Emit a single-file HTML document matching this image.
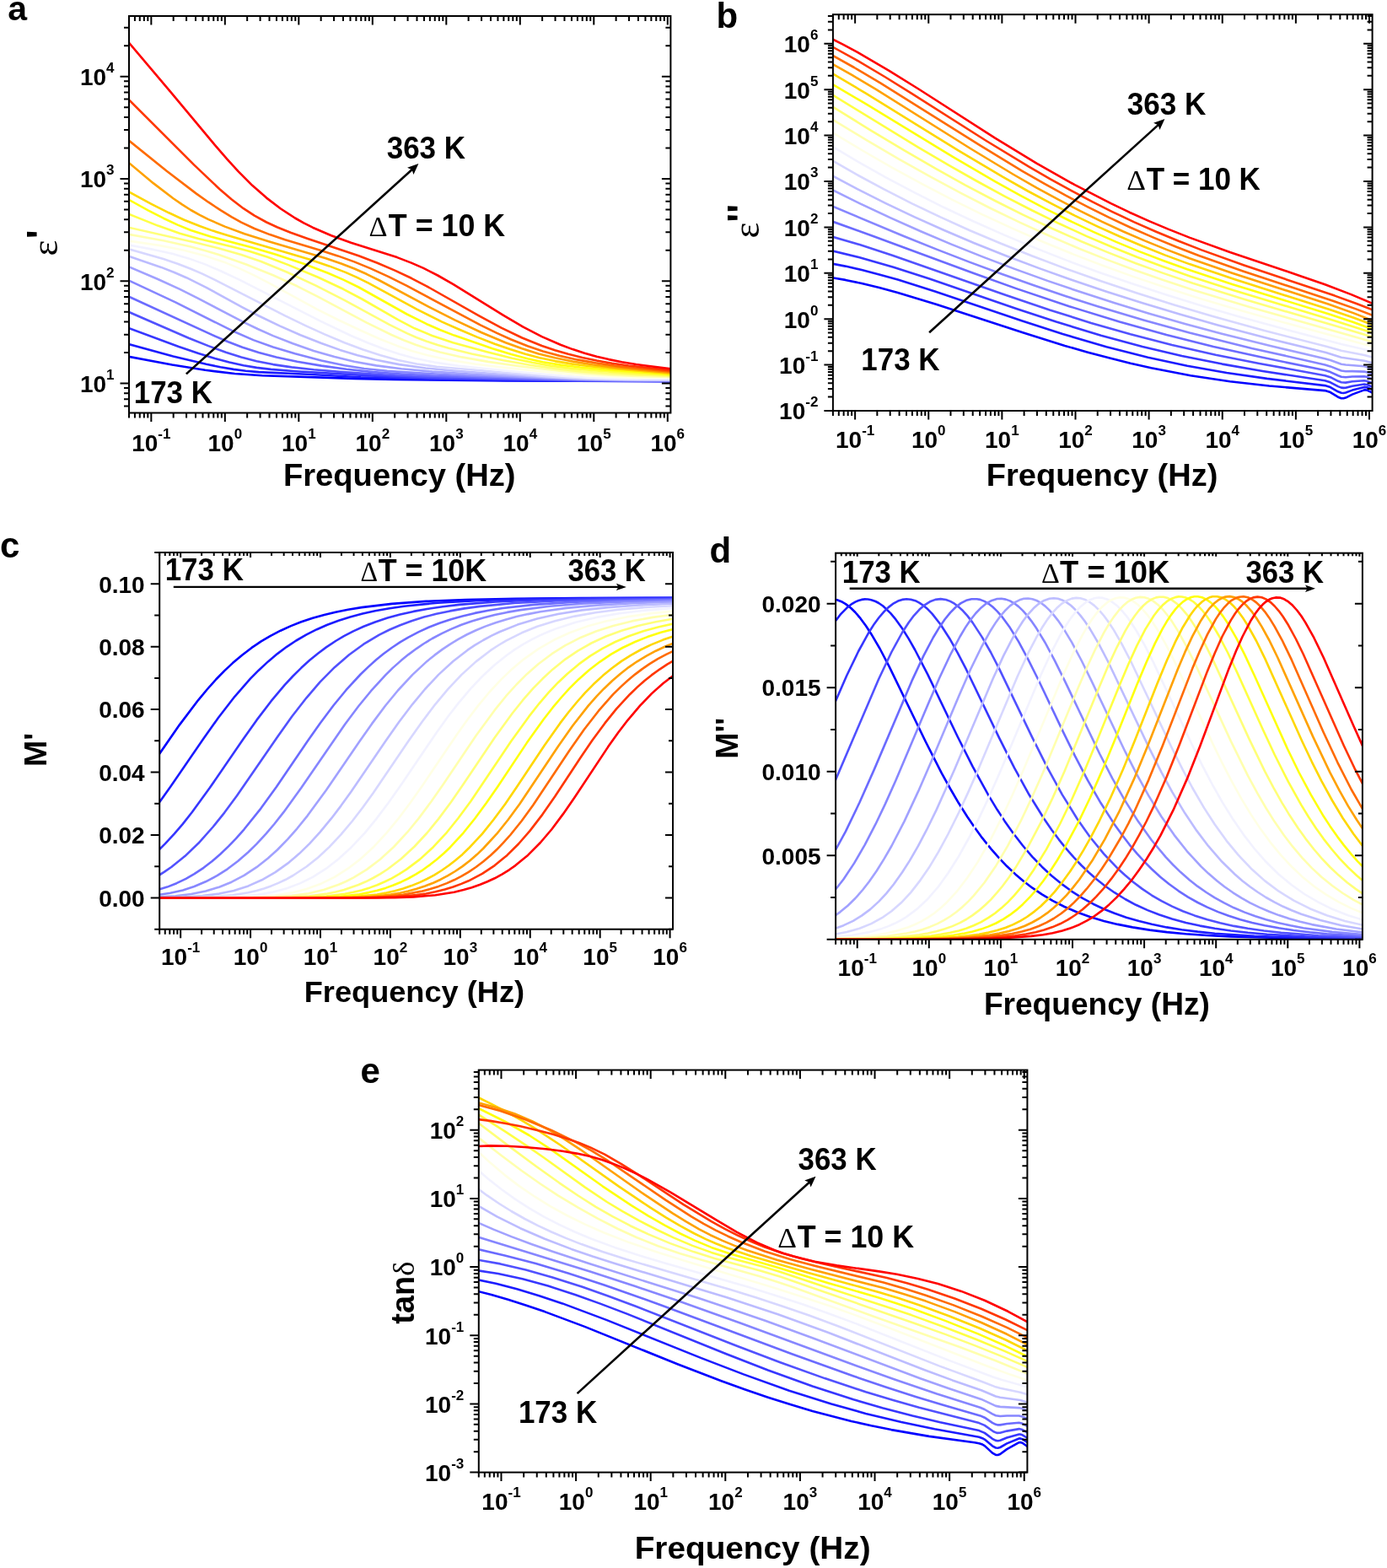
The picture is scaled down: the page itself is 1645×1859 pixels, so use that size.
<!DOCTYPE html>
<html><head><meta charset="utf-8"><style>html,body{margin:0;padding:0;background:#fff;}svg{display:block;}</style></head><body>
<svg xmlns="http://www.w3.org/2000/svg" width="1645" height="1859" viewBox="0 0 1645 1859" font-family='"Liberation Sans", Arial, sans-serif' font-weight="bold" fill="#000">
<rect width="1645" height="1859" fill="#fff"/>
<clipPath id="clipa"><rect x="153.00" y="19.00" width="642.40" height="470.50"/></clipPath>
<g clip-path="url(#clipa)" fill="none" stroke-width="2.6" stroke-linejoin="round" stroke-linecap="round">
<path d="M149.6 422.3 L204.2 432.5 L243.3 438.8 L278.4 443.0 L310.9 445.2 L420.2 448.9 L468.3 449.9 L599.7 451.4 L798.8 452.1" stroke="#0000ff"/>
<path d="M149.6 407.1 L205.5 422.4 L244.6 431.8 L261.5 435.3 L277.1 437.9 L291.4 439.8 L307.0 441.1 L364.3 443.7 L428.0 447.3 L476.1 448.8 L563.3 450.4 L657.0 451.5 L798.8 452.0" stroke="#1b1bff"/>
<path d="M149.6 387.9 L212.0 411.0 L235.5 419.0 L255.0 425.0 L271.9 429.6 L288.8 433.3 L304.4 435.9 L321.3 437.9 L351.2 440.2 L434.5 445.1 L474.8 447.3 L507.4 448.5 L679.1 451.3 L798.8 451.8" stroke="#3636ff"/>
<path d="M149.6 368.5 L223.7 400.7 L247.2 410.1 L268.0 417.7 L286.2 423.5 L304.4 428.2 L323.9 432.1 L346.0 435.4 L372.1 438.3 L403.3 440.9 L467.0 445.3 L507.4 447.3 L685.6 451.1 L798.8 451.7" stroke="#5151ff"/>
<path d="M149.6 350.2 L252.4 397.4 L270.6 405.3 L287.5 411.8 L307.0 418.1 L327.8 423.5 L352.5 428.7 L381.2 433.6 L411.1 437.8 L442.3 441.1 L476.1 443.6 L517.8 445.8 L580.2 447.9 L685.6 450.6 L733.7 451.3 L798.8 451.5" stroke="#6b6bff"/>
<path d="M149.6 331.1 L208.1 358.4 L274.5 391.7 L300.5 403.1 L323.9 411.5 L349.9 419.3 L381.2 427.5 L408.5 433.3 L431.9 437.0 L459.2 439.9 L500.9 442.6 L559.4 445.8 L697.3 450.5 L740.2 451.1 L798.8 451.2" stroke="#8686ff"/>
<path d="M149.6 314.9 L187.3 331.0 L213.3 342.9 L234.2 353.3 L288.8 381.9 L305.7 390.0 L323.9 398.1 L347.3 407.3 L372.1 415.9 L396.8 423.1 L420.2 428.7 L446.2 433.4 L476.1 437.3 L512.6 440.6 L556.8 443.6 L625.7 447.2 L689.5 449.7 L735.0 450.7 L798.8 451.0" stroke="#a1a1ff"/>
<path d="M149.6 302.6 L191.2 316.9 L206.8 323.0 L221.1 329.2 L244.6 340.8 L287.5 364.3 L307.0 374.5 L331.7 386.4 L356.4 397.2 L381.2 407.0 L403.3 414.9 L424.1 421.2 L444.9 426.5 L473.5 432.1 L504.8 436.5 L537.3 439.6 L597.1 444.0 L651.8 447.4 L697.3 449.4 L740.2 450.4 L798.8 450.8" stroke="#bcbcff"/>
<path d="M149.6 294.4 L193.8 307.1 L210.7 312.8 L226.3 318.8 L239.4 324.4 L255.0 331.8 L338.2 374.4 L363.0 386.3 L385.1 396.4 L408.5 406.3 L430.6 414.5 L451.4 421.3 L472.2 426.9 L494.3 431.5 L517.8 434.7 L647.9 446.1 L680.4 448.1 L712.9 449.3 L749.3 450.0 L798.8 450.4" stroke="#d7d7ff"/>
<path d="M149.6 289.9 L182.1 295.9 L204.2 300.8 L223.7 306.4 L243.3 313.4 L262.8 321.7 L284.9 332.1 L379.9 380.6 L416.3 398.0 L435.8 406.3 L455.3 413.8 L473.5 419.8 L491.7 424.8 L515.2 429.6 L543.8 433.7 L606.2 440.2 L667.4 445.7 L697.3 447.7 L724.6 448.8 L755.8 449.1 L798.8 448.9" stroke="#f2f2ff"/>
<path d="M149.6 285.1 L188.6 290.9 L217.2 296.5 L243.3 303.3 L268.0 311.6 L284.9 318.6 L301.8 326.6 L318.7 335.4 L376.0 366.6 L400.7 379.0 L426.7 391.3 L450.1 401.7 L470.9 409.9 L489.1 416.2 L507.4 421.3 L533.4 426.9 L564.6 431.7 L603.6 436.4 L670.0 443.1 L698.6 445.4 L725.9 446.8 L755.8 447.6 L798.8 448.0" stroke="#ffffe4"/>
<path d="M149.6 277.3 L193.8 285.2 L226.3 292.4 L242.0 296.7 L258.9 301.8 L292.7 313.7 L323.9 326.2 L352.5 339.3 L377.3 351.8 L434.5 382.3 L464.4 397.0 L478.7 403.2 L493.0 408.7 L507.4 413.4 L521.7 417.5 L547.7 423.4 L578.9 428.9 L616.6 434.2 L663.5 439.8 L693.4 442.6 L722.0 444.6 L754.5 445.9 L798.8 447.1" stroke="#ffffae"/>
<path d="M149.6 269.0 L231.6 287.6 L258.9 294.2 L286.2 301.9 L309.6 310.0 L339.5 322.2 L374.7 338.6 L408.5 355.9 L461.8 384.8 L482.6 395.1 L494.3 400.2 L506.1 404.7 L519.1 409.0 L532.1 412.8 L559.4 419.5 L597.1 427.3 L628.3 432.7 L659.6 437.1 L689.5 440.4 L719.4 442.7 L751.9 444.4 L798.8 446.1" stroke="#ffff79"/>
<path d="M149.6 252.6 L187.3 267.6 L213.3 276.8 L235.5 283.1 L277.1 292.9 L295.3 297.7 L317.4 304.8 L342.1 314.1 L377.3 328.8 L407.2 342.8 L429.3 354.5 L472.2 379.2 L491.7 389.3 L512.6 398.0 L537.3 406.2 L577.6 417.2 L607.5 424.8 L631.0 429.8 L653.1 433.6 L679.1 437.0 L710.3 439.8 L746.7 442.4 L798.8 445.2" stroke="#ffff43"/>
<path d="M149.6 235.0 L175.6 249.3 L193.8 258.7 L210.7 266.6 L226.3 273.0 L249.8 280.5 L299.2 293.5 L326.5 301.5 L360.3 312.8 L389.0 323.7 L407.2 331.6 L425.4 340.5 L482.6 372.5 L506.1 384.2 L521.7 391.0 L538.6 397.6 L584.1 413.3 L606.2 420.1 L625.7 425.3 L644.0 429.2 L664.8 432.6 L688.2 435.5 L716.8 438.3 L798.8 444.2" stroke="#ffff0d"/>
<path d="M149.6 225.7 L179.5 241.8 L200.3 252.3 L218.5 260.7 L236.8 268.0 L252.4 273.6 L270.6 279.3 L338.2 298.9 L366.9 307.5 L390.3 315.4 L409.8 322.9 L422.8 328.6 L437.1 335.6 L494.3 366.7 L524.3 381.6 L543.8 390.3 L565.9 399.6 L586.7 407.7 L604.9 414.1 L623.1 419.8 L640.1 424.3 L658.3 428.1 L677.8 431.4 L699.9 434.3 L727.2 437.3 L798.8 443.1" stroke="#ffd700"/>
<path d="M149.6 190.3 L182.1 217.4 L205.5 235.3 L215.9 242.4 L226.3 249.0 L236.8 254.8 L247.2 260.1 L266.7 268.6 L290.1 277.2 L318.7 286.3 L386.4 306.3 L404.6 312.5 L420.2 318.5 L434.5 324.8 L450.1 332.5 L508.7 363.8 L539.9 379.6 L571.1 394.3 L599.7 406.2 L619.2 413.3 L638.8 419.4 L658.3 424.3 L679.1 428.5 L702.5 432.3 L728.5 435.6 L757.1 438.5 L798.8 442.1" stroke="#ffa100"/>
<path d="M149.6 164.0 L197.7 202.8 L232.9 229.6 L247.2 239.7 L261.5 249.2 L274.5 257.1 L286.2 263.6 L301.8 271.0 L320.0 278.1 L338.2 284.2 L379.9 296.8 L400.7 303.4 L420.2 310.4 L439.7 318.4 L460.5 327.9 L482.6 338.9 L569.8 385.4 L589.3 394.9 L606.2 402.5 L625.7 410.2 L644.0 416.4 L663.5 421.8 L684.3 426.4 L706.4 430.3 L732.4 434.1 L759.7 437.2 L798.8 441.0" stroke="#ff6b00"/>
<path d="M149.6 114.9 L230.3 195.6 L260.2 224.0 L274.5 236.3 L288.8 247.2 L301.8 255.7 L316.1 263.5 L329.1 269.5 L344.7 275.8 L364.3 282.7 L425.4 303.3 L447.5 311.8 L468.3 320.6 L487.8 329.8 L506.1 339.3 L568.5 374.6 L594.5 388.6 L619.2 400.5 L642.7 410.0 L658.3 415.3 L673.9 419.8 L690.8 424.0 L707.7 427.5 L725.9 430.7 L745.4 433.5 L798.8 439.7" stroke="#ff3600"/>
<path d="M149.6 46.7 L201.6 108.1 L255.0 172.2 L269.3 188.7 L282.3 202.9 L299.2 219.8 L316.1 234.6 L333.0 247.5 L349.9 258.5 L360.3 264.4 L370.8 269.7 L392.9 279.3 L416.3 287.7 L470.9 305.1 L487.8 311.6 L502.2 317.9 L519.1 326.5 L537.3 336.8 L597.1 373.8 L620.5 387.6 L642.7 399.1 L664.8 408.8 L679.1 414.1 L693.4 418.8 L707.7 422.8 L722.0 426.1 L737.6 429.2 L754.5 432.0 L798.8 437.7" stroke="#ff0000"/>
</g>
<clipPath id="clipb"><rect x="987.90" y="17.20" width="639.70" height="469.80"/></clipPath>
<g clip-path="url(#clipb)" fill="none" stroke-width="2.6" stroke-linejoin="round" stroke-linecap="round">
<path d="M984.5 328.8 L1002.6 331.9 L1022.1 336.0 L1042.8 341.0 L1064.8 347.0 L1110.2 360.7 L1213.8 394.6 L1263.0 409.9 L1290.2 417.7 L1316.2 424.6 L1340.8 430.7 L1365.4 436.2 L1412.0 445.2 L1458.7 452.2 L1505.3 457.5 L1571.4 463.1 L1577.8 465.1 L1586.9 470.7 L1590.8 472.2 L1593.4 472.3 L1596.0 471.6 L1603.8 467.6 L1618.0 462.4 L1619.3 462.2 L1621.9 462.8 L1627.1 465.3 L1631.0 466.5" stroke="#0000ff"/>
<path d="M984.5 312.1 L1002.6 315.6 L1022.1 320.0 L1042.8 325.4 L1064.8 331.6 L1108.9 345.5 L1212.5 380.5 L1260.4 396.0 L1312.3 411.2 L1361.5 423.7 L1408.1 433.7 L1454.8 442.0 L1502.7 448.9 L1571.4 457.1 L1577.8 459.1 L1586.9 464.3 L1590.8 465.8 L1593.4 466.0 L1596.0 465.5 L1603.8 462.6 L1618.0 458.9 L1621.9 459.4 L1627.1 461.9 L1631.0 463.2" stroke="#1b1bff"/>
<path d="M984.5 296.7 L1019.5 305.2 L1059.6 316.8 L1102.4 330.6 L1204.7 365.8 L1252.7 381.6 L1305.8 397.7 L1355.0 411.0 L1401.7 421.9 L1449.6 431.6 L1497.5 440.0 L1571.4 451.3 L1577.8 453.3 L1586.9 458.1 L1590.8 459.6 L1593.4 459.9 L1596.0 459.7 L1603.8 457.7 L1618.0 455.5 L1621.9 456.2 L1627.1 458.5 L1631.0 459.8" stroke="#3636ff"/>
<path d="M984.5 279.9 L1019.5 290.1 L1058.3 302.7 L1191.8 349.5 L1244.9 367.5 L1294.1 382.9 L1340.8 396.3 L1390.0 408.9 L1441.8 420.7 L1493.6 431.0 L1571.4 445.2 L1577.8 447.2 L1586.9 451.8 L1590.8 453.3 L1596.0 453.6 L1603.8 452.3 L1618.0 451.2 L1621.9 452.0 L1631.0 455.6" stroke="#5151ff"/>
<path d="M984.5 261.6 L1036.3 280.2 L1154.2 323.8 L1204.7 341.9 L1268.2 363.2 L1327.8 381.5 L1383.5 397.0 L1439.2 410.9 L1496.2 423.6 L1571.4 439.1 L1577.8 441.1 L1586.9 445.3 L1590.8 446.8 L1596.0 447.3 L1603.8 446.5 L1618.0 446.2 L1621.9 447.1 L1631.0 450.4" stroke="#6b6bff"/>
<path d="M984.5 243.3 L1071.3 279.8 L1111.5 295.9 L1150.3 310.9 L1189.2 325.2 L1226.8 338.5 L1264.3 351.2 L1301.9 363.2 L1356.3 379.5 L1410.7 394.5 L1484.6 412.9 L1571.4 432.4 L1577.8 434.4 L1590.8 439.5 L1596.0 440.2 L1603.8 440.1 L1618.0 440.6 L1621.9 441.5 L1631.0 444.5" stroke="#8686ff"/>
<path d="M984.5 223.8 L1019.5 241.1 L1055.8 258.1 L1092.0 274.2 L1128.3 289.6 L1165.9 304.6 L1203.4 318.9 L1242.3 332.9 L1281.2 346.1 L1321.3 359.1 L1362.8 371.7 L1405.5 383.9 L1448.3 395.4 L1506.6 410.1 L1571.4 425.2 L1577.8 427.1 L1590.8 431.7 L1596.0 432.5 L1618.0 434.2 L1631.0 437.8" stroke="#a1a1ff"/>
<path d="M984.5 207.0 L1016.9 224.2 L1050.6 241.1 L1084.3 257.1 L1119.2 272.8 L1155.5 288.2 L1193.1 303.2 L1231.9 317.9 L1270.8 331.7 L1312.3 345.7 L1355.0 359.3 L1399.1 372.5 L1444.4 385.4 L1505.3 401.6 L1572.7 418.1 L1590.8 423.7 L1618.0 427.7 L1631.0 431.1" stroke="#bcbcff"/>
<path d="M984.5 188.8 L1015.6 206.7 L1048.0 224.2 L1081.7 241.3 L1115.4 257.4 L1150.3 273.2 L1186.6 288.5 L1224.2 303.5 L1264.3 318.6 L1305.8 333.3 L1348.5 347.5 L1392.6 361.4 L1439.2 375.2 L1498.8 391.8 L1574.0 411.1 L1590.8 415.8 L1618.0 421.0 L1631.0 424.3" stroke="#d7d7ff"/>
<path d="M984.5 172.0 L1016.9 191.3 L1050.6 210.3 L1084.3 228.2 L1119.2 245.8 L1154.2 262.3 L1190.5 278.4 L1228.1 294.1 L1265.6 308.9 L1304.5 323.2 L1343.4 336.6 L1384.8 350.1 L1427.6 363.2 L1471.6 375.9 L1519.5 389.1 L1590.8 408.0 L1618.0 414.2 L1631.0 417.6" stroke="#f2f2ff"/>
<path d="M984.5 155.4 L1022.1 178.0 L1058.3 198.9 L1094.6 218.7 L1129.6 236.9 L1164.6 254.1 L1200.9 270.9 L1237.1 286.7 L1273.4 301.6 L1308.4 315.0 L1344.7 328.1 L1382.2 340.8 L1421.1 353.2 L1460.0 364.8 L1501.4 376.6 L1631.0 411.6" stroke="#ffffe4"/>
<path d="M984.5 140.0 L1027.3 165.9 L1066.1 188.6 L1103.7 209.7 L1140.0 229.2 L1174.9 247.0 L1209.9 263.9 L1244.9 279.8 L1279.9 294.7 L1312.3 307.6 L1346.0 320.2 L1379.6 332.0 L1415.9 343.9 L1482.0 363.9 L1631.0 406.2" stroke="#ffffae"/>
<path d="M984.5 124.7 L1032.4 154.3 L1072.6 178.4 L1110.2 200.2 L1145.1 219.6 L1180.1 238.0 L1213.8 254.9 L1247.5 270.8 L1282.5 286.2 L1314.9 299.6 L1347.2 312.2 L1379.6 323.9 L1414.6 335.8 L1475.5 354.8 L1586.9 387.3 L1631.0 400.6" stroke="#ffff79"/>
<path d="M984.5 110.8 L1089.4 174.8 L1125.7 196.2 L1158.1 214.5 L1191.8 232.8 L1224.2 249.5 L1256.6 265.3 L1288.9 280.1 L1318.7 292.8 L1348.5 304.7 L1379.6 316.3 L1412.0 327.7 L1462.5 344.0 L1580.4 379.4 L1631.0 395.6" stroke="#ffff43"/>
<path d="M984.5 98.2 L1027.3 123.4 L1129.6 185.7 L1180.1 215.1 L1209.9 231.6 L1239.7 247.3 L1268.2 261.5 L1296.7 274.9 L1323.9 286.9 L1351.1 298.1 L1379.6 309.0 L1408.1 319.3 L1461.3 336.9 L1576.6 372.5 L1605.1 382.0 L1631.0 391.4" stroke="#ffff0d"/>
<path d="M984.5 85.6 L1027.3 110.8 L1136.1 178.1 L1189.2 209.7 L1219.0 226.5 L1247.5 241.7 L1274.7 255.6 L1301.9 268.6 L1327.8 280.3 L1355.0 291.8 L1382.2 302.6 L1410.7 313.1 L1463.8 331.1 L1577.8 367.2 L1606.3 377.1 L1631.0 386.2" stroke="#ffd700"/>
<path d="M984.5 74.3 L1010.4 88.9 L1038.9 105.9 L1151.6 176.5 L1202.2 207.0 L1229.4 222.6 L1255.3 236.7 L1281.2 250.2 L1307.1 262.9 L1331.7 274.2 L1357.6 285.4 L1383.5 295.9 L1410.7 306.2 L1461.3 323.7 L1575.3 360.5 L1605.1 371.1 L1631.0 381.2" stroke="#ffa100"/>
<path d="M984.5 64.2 L1013.0 80.0 L1044.1 98.4 L1162.0 172.2 L1212.5 202.8 L1238.4 217.6 L1264.3 231.9 L1290.2 245.4 L1314.9 257.6 L1340.8 269.7 L1368.0 281.6 L1395.2 292.8 L1422.4 303.2 L1474.2 321.5 L1581.7 356.9 L1607.6 366.1 L1631.0 375.0" stroke="#ff6b00"/>
<path d="M984.5 54.0 L1014.3 70.3 L1049.3 91.0 L1081.7 111.1 L1169.8 167.0 L1220.3 197.7 L1246.2 212.6 L1270.8 226.2 L1295.4 239.2 L1318.7 250.8 L1344.7 263.1 L1370.6 274.5 L1397.8 285.8 L1425.0 296.4 L1475.5 314.5 L1583.0 350.6 L1608.9 360.0 L1631.0 368.5" stroke="#ff3600"/>
<path d="M984.5 45.0 L1000.1 52.8 L1016.9 61.9 L1054.5 83.8 L1089.4 105.5 L1180.1 163.6 L1229.4 193.6 L1274.7 219.2 L1317.5 241.2 L1339.5 251.7 L1362.8 262.1 L1386.1 271.9 L1410.7 281.6 L1458.7 299.0 L1541.6 326.9 L1571.4 337.3 L1602.5 349.1 L1631.0 361.2" stroke="#ff0000"/>
</g>
<clipPath id="clipc"><rect x="189.20" y="655.00" width="608.80" height="446.70"/></clipPath>
<g clip-path="url(#clipc)" fill="none" stroke-width="2.6" stroke-linejoin="round" stroke-linecap="round">
<path d="M186.0 898.2 L213.1 859.1 L235.3 829.8 L246.4 816.5 L256.2 805.5 L266.1 795.4 L276.0 786.1 L287.1 776.7 L298.2 768.2 L309.3 760.7 L320.4 754.1 L332.7 747.7 L345.0 742.1 L357.3 737.3 L370.9 732.7 L384.5 728.9 L398.0 725.7 L412.8 722.7 L428.9 720.1 L464.6 715.9 L505.3 712.9 L552.1 711.0 L611.3 709.7 L687.8 709.0 L801.2 708.7" stroke="#0000ff"/>
<path d="M186.0 955.4 L202.0 933.1 L241.5 875.5 L258.7 851.3 L278.4 825.8 L296.9 804.7 L306.8 794.7 L317.9 784.4 L329.0 775.1 L340.1 766.8 L351.2 759.5 L363.5 752.4 L375.8 746.2 L388.2 740.8 L401.7 735.8 L415.3 731.5 L430.1 727.6 L444.9 724.3 L462.1 721.2 L479.4 718.7 L518.9 714.7 L564.5 712.1 L621.2 710.3 L693.9 709.3 L801.2 708.9" stroke="#1b1bff"/>
<path d="M186.0 1010.1 L195.8 1000.4 L206.9 988.4 L216.8 976.9 L227.9 962.8 L248.8 934.1 L288.3 876.5 L304.3 853.9 L321.6 831.2 L337.6 812.2 L347.5 801.5 L357.3 791.8 L367.2 782.8 L377.1 774.7 L386.9 767.4 L398.0 760.0 L407.9 754.2 L419.0 748.4 L431.3 742.8 L444.9 737.5 L459.7 732.6 L474.5 728.5 L490.5 724.9 L506.5 722.0 L525.0 719.2 L544.8 716.9 L587.9 713.5 L640.9 711.3 L707.5 709.9 L801.2 709.3" stroke="#3636ff"/>
<path d="M186.0 1039.2 L194.6 1033.9 L203.2 1028.0 L219.3 1015.1 L235.3 999.8 L252.5 980.5 L266.1 963.6 L280.9 943.6 L329.0 873.7 L346.2 849.5 L363.5 827.3 L379.5 808.7 L396.8 791.2 L414.1 776.2 L431.3 763.7 L449.8 752.7 L462.1 746.5 L474.5 741.2 L488.0 736.2 L502.8 731.6 L517.6 727.8 L533.7 724.4 L550.9 721.4 L569.4 718.9 L610.1 715.0 L658.2 712.5 L718.6 710.8 L801.2 709.9" stroke="#5151ff"/>
<path d="M186.0 1055.4 L198.3 1051.6 L209.4 1047.2 L220.5 1041.8 L230.4 1036.2 L241.5 1028.8 L251.3 1021.3 L261.2 1012.8 L271.0 1003.4 L279.7 994.4 L289.5 983.3 L309.3 958.6 L327.8 932.9 L364.7 878.7 L379.5 857.7 L395.6 836.3 L410.4 818.2 L427.6 799.5 L436.3 791.1 L446.1 782.3 L454.7 775.3 L464.6 768.0 L474.5 761.4 L484.3 755.6 L496.7 749.1 L509.0 743.5 L521.3 738.7 L534.9 734.2 L548.5 730.4 L563.2 726.9 L579.3 723.7 L596.5 721.0 L633.5 716.9 L677.9 713.9 L732.2 712.0 L801.2 710.9" stroke="#6b6bff"/>
<path d="M186.0 1061.2 L202.0 1058.8 L216.8 1055.4 L230.4 1051.0 L243.9 1045.3 L257.5 1038.2 L269.8 1030.3 L282.1 1021.0 L294.5 1010.2 L304.3 1000.6 L315.4 988.6 L325.3 977.0 L336.4 962.9 L357.3 934.1 L409.1 858.7 L425.2 837.3 L440.0 819.2 L457.2 800.4 L465.8 791.9 L475.7 783.1 L484.3 776.1 L494.2 768.8 L502.8 763.0 L512.7 757.0 L523.8 751.1 L534.9 745.9 L547.2 740.8 L559.5 736.5 L573.1 732.5 L586.7 729.0 L601.5 725.9 L617.5 723.1 L652.0 718.7 L692.7 715.5 L740.8 713.4 L801.2 712.1" stroke="#8686ff"/>
<path d="M186.0 1063.6 L208.2 1062.2 L226.7 1060.0 L243.9 1056.5 L259.9 1051.7 L274.7 1045.7 L289.5 1037.9 L304.3 1028.2 L317.9 1017.5 L329.0 1007.5 L341.3 994.9 L352.4 982.3 L364.7 967.1 L386.9 936.8 L426.4 879.0 L441.2 857.9 L457.2 836.5 L472.0 818.5 L489.3 799.9 L506.5 783.9 L515.2 776.9 L525.0 769.6 L533.7 763.8 L543.5 757.8 L553.4 752.5 L564.5 747.3 L575.6 742.6 L587.9 738.2 L600.2 734.4 L612.6 731.1 L626.1 728.1 L640.9 725.3 L671.7 720.9 L707.5 717.6 L749.4 715.2 L801.2 713.6" stroke="#a1a1ff"/>
<path d="M186.0 1064.3 L216.8 1063.6 L240.2 1062.1 L259.9 1059.6 L277.2 1055.9 L294.5 1050.4 L310.5 1043.3 L326.5 1034.1 L342.6 1022.6 L354.9 1012.1 L367.2 1000.1 L379.5 986.6 L393.1 970.2 L404.2 955.6 L416.5 938.5 L457.2 878.7 L473.2 856.0 L489.3 834.8 L504.1 817.0 L520.1 799.9 L537.4 784.0 L554.6 770.7 L563.2 764.9 L573.1 759.0 L583.0 753.7 L592.8 749.0 L613.8 740.6 L637.2 733.5 L661.9 728.0 L690.2 723.4 L721.1 720.1 L758.0 717.4 L801.2 715.6" stroke="#bcbcff"/>
<path d="M186.0 1064.4 L226.7 1064.1 L253.8 1063.1 L276.0 1061.2 L294.5 1058.3 L304.3 1055.9 L313.0 1053.4 L321.6 1050.4 L330.2 1046.9 L338.9 1042.8 L347.5 1038.0 L363.5 1027.5 L377.1 1016.7 L390.6 1004.1 L404.2 989.7 L417.8 973.5 L430.1 957.5 L442.4 940.4 L484.3 878.8 L500.4 856.0 L516.4 834.8 L531.2 817.1 L547.2 800.1 L564.5 784.4 L581.7 771.2 L590.4 765.5 L600.2 759.6 L618.7 750.3 L637.2 742.8 L658.2 736.2 L681.6 730.6 L706.3 726.2 L733.4 722.8 L765.4 720.0 L801.2 718.0" stroke="#d7d7ff"/>
<path d="M186.0 1064.5 L235.3 1064.3 L264.9 1063.8 L287.1 1062.7 L305.6 1060.9 L324.1 1057.6 L340.1 1053.2 L356.1 1047.1 L370.9 1039.8 L386.9 1029.7 L401.7 1018.2 L416.5 1004.7 L432.6 987.6 L446.1 971.1 L460.9 951.5 L475.7 930.4 L517.6 868.7 L531.2 849.8 L543.5 833.9 L558.3 816.3 L571.9 802.0 L586.7 788.3 L601.5 776.5 L610.1 770.4 L620.0 764.2 L629.8 758.6 L639.7 753.6 L649.6 749.2 L660.6 744.9 L682.8 737.8 L707.5 731.9 L734.6 727.2 L765.4 723.6 L801.2 720.8" stroke="#f2f2ff"/>
<path d="M186.0 1064.5 L282.1 1064.0 L306.8 1063.1 L326.5 1061.5 L346.2 1058.4 L363.5 1054.0 L380.8 1047.7 L396.8 1039.8 L412.8 1029.7 L427.6 1018.4 L442.4 1004.8 L458.4 987.7 L472.0 971.2 L486.8 951.5 L501.6 930.4 L542.3 870.2 L554.6 853.0 L566.9 836.9 L580.5 820.5 L594.1 805.9 L607.6 792.9 L621.2 781.6 L638.5 769.4 L656.9 758.8 L675.4 750.2 L696.4 742.6 L718.6 736.5 L743.3 731.4 L770.4 727.4 L801.2 724.3" stroke="#ffffe4"/>
<path d="M186.0 1064.5 L300.6 1064.1 L326.5 1063.4 L346.2 1061.9 L366.0 1059.2 L384.5 1054.8 L401.7 1048.8 L410.4 1045.0 L419.0 1040.7 L435.0 1030.9 L451.0 1018.7 L467.1 1004.0 L483.1 986.7 L496.7 970.1 L511.5 950.2 L526.3 928.9 L564.5 872.2 L586.7 841.9 L600.2 825.2 L612.6 811.5 L624.9 799.2 L638.5 787.3 L654.5 775.2 L670.5 765.2 L689.0 755.7 L707.5 748.2 L727.2 741.9 L749.4 736.4 L774.1 731.9 L801.2 728.3" stroke="#ffffae"/>
<path d="M186.0 1064.5 L319.1 1064.2 L346.2 1063.6 L367.2 1062.2 L388.2 1059.5 L398.0 1057.5 L407.9 1055.0 L425.2 1049.0 L433.8 1045.3 L442.4 1041.0 L451.0 1036.1 L459.7 1030.5 L475.7 1018.3 L491.7 1003.5 L506.5 987.5 L520.1 970.9 L534.9 951.0 L549.7 929.6 L586.7 874.6 L607.6 845.7 L620.0 830.2 L632.3 816.2 L643.4 804.8 L655.7 793.4 L670.5 781.6 L685.3 771.6 L701.3 762.5 L718.6 754.5 L737.1 747.7 L756.8 741.9 L777.8 737.2 L801.2 733.2" stroke="#ffff79"/>
<path d="M186.0 1064.5 L337.6 1064.3 L366.0 1063.7 L386.9 1062.5 L409.1 1059.7 L419.0 1057.8 L428.9 1055.4 L438.7 1052.4 L447.4 1049.2 L456.0 1045.5 L464.6 1041.3 L473.2 1036.4 L481.9 1030.9 L497.9 1018.9 L513.9 1004.2 L530.0 986.8 L543.5 970.0 L558.3 949.9 L606.4 878.6 L627.4 849.4 L639.7 833.8 L650.8 820.9 L661.9 809.2 L673.0 798.7 L686.5 787.4 L700.1 777.6 L714.9 768.6 L729.7 761.0 L745.7 754.2 L763.0 748.3 L781.5 743.2 L801.2 739.0" stroke="#ffff43"/>
<path d="M186.0 1064.5 L353.6 1064.3 L383.2 1063.8 L404.2 1062.7 L426.4 1060.2 L437.5 1058.1 L447.4 1055.8 L457.2 1052.9 L465.8 1049.8 L475.7 1045.7 L484.3 1041.5 L493.0 1036.7 L501.6 1031.3 L510.2 1025.1 L517.6 1019.3 L526.3 1011.8 L533.7 1004.7 L549.7 987.3 L563.2 970.5 L576.8 952.1 L590.4 932.4 L624.9 880.6 L644.6 853.0 L655.7 838.7 L665.6 827.0 L675.4 816.2 L686.5 805.2 L698.9 794.3 L711.2 784.8 L724.8 775.7 L738.3 768.0 L753.1 761.0 L767.9 755.1 L783.9 749.8 L801.2 745.3" stroke="#ffff0d"/>
<path d="M186.0 1064.5 L373.4 1064.4 L403.0 1063.9 L423.9 1062.9 L447.4 1060.5 L458.4 1058.5 L468.3 1056.3 L478.2 1053.5 L488.0 1050.1 L497.9 1046.1 L506.5 1042.0 L515.2 1037.3 L523.8 1032.0 L532.4 1026.0 L539.8 1020.3 L548.5 1012.9 L555.8 1005.8 L571.9 988.6 L585.4 971.8 L599.0 953.4 L612.6 933.6 L645.9 883.5 L664.3 857.4 L674.2 844.5 L684.1 832.5 L693.9 821.4 L703.8 811.3 L714.9 801.1 L726.0 792.0 L737.1 783.9 L748.2 776.8 L760.5 770.0 L772.8 764.1 L786.4 758.6 L801.2 753.6" stroke="#ffd700"/>
<path d="M186.0 1064.5 L386.9 1064.4 L417.8 1064.0 L438.7 1063.1 L451.0 1062.1 L463.4 1060.6 L474.5 1058.7 L484.3 1056.5 L494.2 1053.8 L504.1 1050.5 L513.9 1046.7 L522.6 1042.7 L531.2 1038.1 L539.8 1033.0 L548.5 1027.1 L557.1 1020.5 L565.7 1013.1 L573.1 1006.0 L589.1 988.7 L602.7 971.8 L616.3 953.2 L661.9 885.0 L679.1 860.5 L697.6 836.9 L707.5 825.7 L716.1 816.7 L726.0 807.2 L735.9 798.8 L745.7 791.1 L755.6 784.3 L766.7 777.6 L777.8 771.7 L788.9 766.5 L801.2 761.6" stroke="#ffa100"/>
<path d="M186.0 1064.5 L401.7 1064.4 L432.6 1064.0 L453.5 1063.2 L478.2 1060.8 L499.1 1056.9 L510.2 1054.0 L520.1 1050.9 L530.0 1047.1 L538.6 1043.3 L547.2 1038.9 L555.8 1033.8 L564.5 1028.0 L573.1 1021.5 L581.7 1014.2 L589.1 1007.3 L596.5 999.7 L605.2 990.0 L618.7 973.2 L632.3 954.5 L675.4 889.7 L692.7 865.0 L710.0 842.7 L727.2 823.2 L735.9 814.6 L744.5 806.8 L753.1 799.6 L761.7 793.1 L770.4 787.2 L780.2 781.2 L790.1 775.9 L801.2 770.6" stroke="#ff6b00"/>
<path d="M186.0 1064.5 L416.5 1064.4 L447.4 1064.1 L469.5 1063.3 L494.2 1061.1 L505.3 1059.5 L516.4 1057.3 L527.5 1054.5 L537.4 1051.5 L547.2 1047.9 L555.8 1044.3 L571.9 1035.9 L586.7 1026.1 L601.5 1013.9 L615.0 1000.5 L628.6 984.9 L643.4 965.6 L658.2 944.3 L689.0 897.5 L702.6 877.6 L717.4 857.4 L730.9 840.6 L747.0 823.2 L755.6 814.9 L764.2 807.3 L772.8 800.4 L782.7 793.3 L791.3 787.7 L801.2 782.0" stroke="#ff3600"/>
<path d="M186.0 1064.5 L437.5 1064.4 L468.3 1064.1 L490.5 1063.4 L516.4 1061.3 L538.6 1057.7 L549.7 1055.1 L559.5 1052.2 L569.4 1048.8 L578.0 1045.3 L586.7 1041.3 L595.3 1036.6 L603.9 1031.3 L611.3 1026.1 L626.1 1013.9 L640.9 999.0 L654.5 983.0 L668.0 964.9 L681.6 945.2 L721.1 885.6 L733.4 868.3 L744.5 853.8 L759.3 836.4 L772.8 822.4 L786.4 810.3 L801.2 799.0" stroke="#ff0000"/>
</g>
<clipPath id="clipd"><rect x="991.10" y="655.70" width="624.80" height="458.10"/></clipPath>
<g clip-path="url(#clipd)" fill="none" stroke-width="2.6" stroke-linejoin="round" stroke-linecap="round">
<path d="M987.8 710.5 L992.8 711.3 L997.9 713.2 L1003.0 716.1 L1009.3 721.0 L1014.4 726.0 L1020.7 733.4 L1027.0 742.0 L1033.3 751.7 L1043.5 769.0 L1054.8 790.6 L1097.9 879.5 L1116.8 916.6 L1127.0 935.0 L1137.1 952.3 L1147.2 968.3 L1156.1 981.3 L1164.9 993.4 L1175.1 1006.1 L1183.9 1016.2 L1194.0 1026.8 L1204.2 1036.4 L1214.3 1045.0 L1224.4 1052.7 L1235.8 1060.4 L1248.4 1067.9 L1262.4 1075.0 L1277.5 1081.5 L1292.7 1087.0 L1309.2 1091.9 L1325.6 1095.9 L1343.3 1099.4 L1363.6 1102.6 L1383.8 1105.1 L1406.6 1107.3 L1431.9 1109.0 L1459.8 1110.4 L1526.8 1112.3 L1619.2 1113.3" stroke="#0000ff"/>
<path d="M987.8 740.4 L996.6 728.7 L1005.5 719.7 L1010.6 715.8 L1014.4 713.6 L1018.2 712.0 L1021.9 710.9 L1025.7 710.4 L1029.5 710.5 L1033.3 711.2 L1038.4 713.0 L1042.2 715.0 L1047.3 718.5 L1056.1 726.9 L1062.4 734.4 L1070.0 745.0 L1077.6 757.1 L1085.2 770.5 L1100.4 799.9 L1135.8 873.5 L1153.5 908.7 L1172.5 943.1 L1182.6 959.8 L1191.5 973.4 L1201.6 987.8 L1213.0 1002.5 L1224.4 1015.8 L1235.8 1027.7 L1247.2 1038.2 L1258.6 1047.6 L1271.2 1056.8 L1283.9 1064.8 L1296.5 1071.7 L1309.2 1077.7 L1321.8 1082.8 L1335.8 1087.7 L1350.9 1092.1 L1366.1 1095.8 L1383.8 1099.4 L1401.5 1102.2 L1420.5 1104.6 L1440.8 1106.7 L1487.6 1109.8 L1544.5 1111.9 L1619.2 1113.0" stroke="#1b1bff"/>
<path d="M987.8 838.6 L1004.2 801.0 L1018.2 772.0 L1030.8 749.2 L1037.1 739.4 L1042.2 732.5 L1048.5 725.1 L1053.6 720.1 L1059.9 715.3 L1065.0 712.6 L1070.0 710.9 L1075.1 710.3 L1080.2 710.7 L1086.5 712.6 L1090.3 714.6 L1095.3 718.0 L1100.4 722.3 L1105.5 727.6 L1115.6 740.5 L1127.0 758.3 L1135.8 774.1 L1146.0 793.7 L1185.2 875.1 L1202.9 910.2 L1220.6 942.3 L1238.3 970.8 L1247.2 983.7 L1256.0 995.6 L1264.9 1006.6 L1273.7 1016.7 L1282.6 1026.0 L1291.5 1034.5 L1300.3 1042.2 L1310.4 1050.2 L1321.8 1058.2 L1334.5 1066.0 L1347.1 1072.8 L1361.1 1079.1 L1375.0 1084.5 L1390.2 1089.5 L1406.6 1094.0 L1423.1 1097.6 L1440.8 1100.8 L1459.8 1103.5 L1480.0 1105.8 L1502.8 1107.8 L1554.7 1110.7 L1619.2 1112.4" stroke="#3636ff"/>
<path d="M987.8 932.1 L1042.2 805.0 L1057.4 773.0 L1070.0 750.0 L1077.6 738.2 L1083.9 729.8 L1090.3 722.8 L1096.6 717.3 L1102.9 713.3 L1109.3 710.9 L1115.6 710.1 L1121.9 711.0 L1127.0 712.9 L1132.0 715.7 L1137.1 719.6 L1142.2 724.3 L1147.2 729.9 L1153.5 738.1 L1164.9 755.6 L1175.1 773.5 L1185.2 793.1 L1224.4 874.6 L1242.1 909.8 L1259.8 942.1 L1277.5 970.7 L1292.7 992.2 L1309.2 1012.4 L1325.6 1029.7 L1334.5 1037.8 L1343.3 1045.3 L1354.7 1053.9 L1366.1 1061.5 L1377.5 1068.1 L1390.2 1074.6 L1402.8 1080.2 L1416.7 1085.4 L1431.9 1090.3 L1447.1 1094.3 L1463.5 1097.9 L1480.0 1100.8 L1499.0 1103.5 L1519.2 1105.8 L1563.5 1109.2 L1619.2 1111.5" stroke="#5151ff"/>
<path d="M987.8 1013.5 L1003.0 985.6 L1019.4 951.5 L1037.1 911.6 L1081.4 807.4 L1095.3 777.6 L1106.7 756.0 L1114.3 743.4 L1120.6 734.3 L1127.0 726.4 L1133.3 720.0 L1139.6 715.1 L1146.0 711.8 L1152.3 710.2 L1158.6 710.2 L1162.4 710.9 L1167.5 712.9 L1172.5 715.8 L1177.6 719.8 L1182.6 724.6 L1187.7 730.3 L1197.8 744.1 L1208.0 760.6 L1219.3 781.6 L1232.0 807.0 L1261.1 868.1 L1275.0 896.4 L1290.2 925.3 L1305.4 951.8 L1321.8 977.4 L1330.7 989.8 L1339.5 1001.3 L1348.4 1011.9 L1357.3 1021.6 L1366.1 1030.5 L1376.2 1039.7 L1386.4 1048.0 L1397.8 1056.3 L1409.1 1063.6 L1420.5 1070.0 L1431.9 1075.6 L1444.6 1081.1 L1457.2 1085.8 L1471.1 1090.2 L1485.1 1093.9 L1500.2 1097.3 L1516.7 1100.3 L1534.4 1103.0 L1553.4 1105.3 L1573.6 1107.2 L1619.2 1110.1" stroke="#6b6bff"/>
<path d="M987.8 1058.6 L1000.4 1042.5 L1013.1 1023.4 L1025.7 1001.6 L1038.4 977.2 L1049.8 953.4 L1062.4 925.2 L1101.7 832.6 L1114.3 803.5 L1127.0 776.5 L1138.4 755.0 L1144.7 744.4 L1151.0 735.0 L1157.3 727.0 L1163.7 720.4 L1170.0 715.3 L1176.3 711.9 L1182.6 710.0 L1187.7 709.8 L1192.8 710.6 L1197.8 712.4 L1202.9 715.3 L1208.0 719.1 L1213.0 723.9 L1218.1 729.6 L1223.1 736.1 L1229.5 745.3 L1239.6 762.0 L1251.0 783.3 L1262.4 806.3 L1304.1 893.5 L1319.3 922.8 L1333.2 947.4 L1349.7 973.6 L1366.1 996.5 L1382.6 1016.2 L1391.4 1025.5 L1400.3 1034.1 L1410.4 1043.0 L1420.5 1050.9 L1430.7 1058.0 L1440.8 1064.4 L1452.2 1070.7 L1463.5 1076.3 L1476.2 1081.6 L1488.9 1086.2 L1501.5 1090.2 L1515.4 1093.9 L1530.6 1097.3 L1545.8 1100.2 L1580.0 1104.9 L1619.2 1108.4" stroke="#8686ff"/>
<path d="M987.8 1087.3 L996.6 1081.1 L1005.5 1073.7 L1014.4 1065.0 L1023.2 1055.0 L1030.8 1045.2 L1039.7 1032.5 L1048.5 1018.4 L1057.4 1003.0 L1072.6 973.6 L1089.0 938.4 L1104.2 903.6 L1137.1 825.4 L1151.0 793.8 L1163.7 767.7 L1175.1 747.2 L1181.4 737.4 L1186.4 730.5 L1192.8 723.2 L1197.8 718.4 L1204.2 713.8 L1209.2 711.3 L1214.3 709.8 L1219.3 709.5 L1224.4 710.2 L1229.5 712.0 L1234.5 714.8 L1239.6 718.6 L1244.6 723.4 L1249.7 729.1 L1254.8 735.6 L1261.1 744.8 L1271.2 761.6 L1282.6 783.0 L1294.0 806.1 L1334.5 891.2 L1348.4 918.3 L1362.3 943.4 L1377.5 968.2 L1392.7 990.1 L1407.9 1009.3 L1424.3 1027.1 L1433.2 1035.6 L1443.3 1044.3 L1452.2 1051.2 L1462.3 1058.3 L1472.4 1064.6 L1482.5 1070.3 L1493.9 1075.9 L1505.3 1080.8 L1516.7 1085.1 L1529.3 1089.2 L1542.0 1092.8 L1555.9 1096.1 L1585.0 1101.5 L1619.2 1105.8" stroke="#a1a1ff"/>
<path d="M987.8 1101.8 L1000.4 1097.2 L1011.8 1091.8 L1021.9 1085.6 L1032.1 1078.1 L1042.2 1068.9 L1051.1 1059.4 L1059.9 1048.5 L1070.0 1034.3 L1078.9 1020.4 L1089.0 1002.9 L1099.1 983.7 L1110.5 960.4 L1132.0 912.5 L1177.6 804.7 L1190.2 777.4 L1200.4 757.7 L1206.7 746.7 L1213.0 736.8 L1219.3 728.3 L1225.7 721.3 L1232.0 715.8 L1238.3 711.9 L1244.6 709.7 L1249.7 709.2 L1254.8 709.7 L1259.8 711.4 L1264.9 714.1 L1270.0 717.8 L1275.0 722.5 L1281.3 729.6 L1286.4 736.3 L1292.7 745.6 L1302.9 762.8 L1314.2 784.5 L1363.6 888.1 L1377.5 915.6 L1390.2 938.8 L1405.3 964.1 L1419.3 984.9 L1433.2 1003.2 L1448.4 1020.7 L1464.8 1036.8 L1473.7 1044.4 L1482.5 1051.3 L1491.4 1057.5 L1501.5 1064.0 L1511.6 1069.7 L1521.8 1074.8 L1531.9 1079.3 L1543.3 1083.8 L1566.0 1091.1 L1591.3 1097.2 L1619.2 1102.1" stroke="#bcbcff"/>
<path d="M987.8 1108.1 L1004.2 1105.0 L1019.4 1100.7 L1033.3 1095.1 L1046.0 1088.2 L1057.4 1080.2 L1068.8 1070.3 L1080.2 1058.1 L1091.5 1043.6 L1101.7 1028.8 L1113.1 1009.9 L1124.4 989.0 L1137.1 963.5 L1148.5 938.9 L1159.9 912.9 L1206.7 802.0 L1219.3 774.7 L1229.5 755.1 L1235.8 744.3 L1242.1 734.6 L1248.4 726.4 L1253.5 720.8 L1259.8 715.3 L1264.9 712.1 L1271.2 709.6 L1276.3 708.9 L1281.3 709.2 L1286.4 710.7 L1291.5 713.3 L1297.8 717.9 L1302.9 722.7 L1309.2 730.0 L1314.2 736.8 L1320.6 746.4 L1330.7 763.8 L1340.8 783.3 L1390.2 887.5 L1402.8 912.7 L1414.2 934.0 L1428.1 957.9 L1440.8 977.5 L1454.7 996.8 L1468.6 1013.7 L1483.8 1029.7 L1500.2 1044.4 L1516.7 1056.7 L1534.4 1067.7 L1553.4 1077.2 L1573.6 1085.2 L1595.1 1091.9 L1619.2 1097.5" stroke="#d7d7ff"/>
<path d="M987.8 1111.1 L1010.6 1108.7 L1029.5 1105.4 L1046.0 1100.9 L1053.6 1098.1 L1061.2 1094.8 L1068.8 1090.9 L1075.1 1087.0 L1087.7 1077.6 L1100.4 1065.7 L1113.1 1051.0 L1124.4 1035.3 L1137.1 1015.2 L1149.7 992.5 L1162.4 967.4 L1173.8 943.1 L1186.4 914.4 L1234.5 800.2 L1247.2 772.8 L1257.3 753.3 L1263.6 742.5 L1270.0 732.9 L1276.3 724.8 L1281.3 719.4 L1287.7 714.2 L1292.7 711.2 L1297.8 709.3 L1302.9 708.5 L1307.9 708.9 L1313.0 710.4 L1318.0 713.0 L1324.4 717.7 L1329.4 722.7 L1335.8 730.1 L1340.8 737.0 L1347.1 746.7 L1357.3 764.4 L1367.4 784.1 L1414.2 883.8 L1425.6 906.8 L1437.0 928.6 L1449.6 950.9 L1462.3 971.3 L1474.9 989.6 L1487.6 1006.0 L1501.5 1021.8 L1516.7 1036.7 L1531.9 1049.3 L1547.1 1060.0 L1563.5 1069.7 L1581.2 1078.3 L1598.9 1085.2 L1619.2 1091.5" stroke="#f2f2ff"/>
<path d="M987.8 1112.5 L1016.9 1110.9 L1040.9 1108.2 L1051.1 1106.5 L1061.2 1104.3 L1077.6 1099.2 L1085.2 1096.0 L1092.8 1092.3 L1100.4 1087.9 L1108.0 1082.7 L1115.6 1076.6 L1121.9 1070.8 L1134.6 1057.2 L1147.2 1040.8 L1159.9 1021.6 L1173.8 997.3 L1187.7 970.2 L1200.4 943.3 L1213.0 914.7 L1262.4 797.1 L1273.7 772.3 L1283.9 752.6 L1290.2 741.8 L1295.3 734.0 L1301.6 725.6 L1306.6 720.0 L1313.0 714.4 L1318.0 711.2 L1323.1 709.2 L1328.2 708.2 L1333.2 708.5 L1338.3 709.9 L1343.3 712.4 L1349.7 717.0 L1354.7 721.9 L1361.1 729.3 L1366.1 736.3 L1372.4 746.0 L1382.6 763.8 L1392.7 783.6 L1438.2 881.4 L1449.6 904.7 L1459.8 924.3 L1472.4 947.1 L1483.8 965.9 L1495.2 983.1 L1506.6 998.6 L1519.2 1013.9 L1531.9 1027.5 L1544.5 1039.4 L1558.4 1050.7 L1572.4 1060.4 L1587.6 1069.3 L1602.7 1076.9 L1619.2 1083.6" stroke="#ffffe4"/>
<path d="M987.8 1113.1 L1024.5 1112.0 L1052.3 1109.9 L1075.1 1106.6 L1085.2 1104.4 L1094.1 1101.9 L1102.9 1098.9 L1111.8 1095.1 L1119.4 1091.1 L1127.0 1086.5 L1134.6 1081.0 L1140.9 1075.8 L1148.5 1068.6 L1154.8 1061.9 L1167.5 1046.5 L1181.4 1026.2 L1195.3 1002.7 L1210.5 973.7 L1223.1 947.1 L1237.1 915.8 L1277.5 818.3 L1288.9 791.7 L1299.1 769.8 L1309.2 750.2 L1315.5 739.5 L1320.6 731.9 L1326.9 723.7 L1332.0 718.3 L1337.0 713.9 L1342.1 710.8 L1347.1 708.7 L1352.2 707.9 L1357.3 708.3 L1362.3 709.8 L1367.4 712.4 L1373.7 717.3 L1378.8 722.3 L1385.1 730.0 L1390.2 737.1 L1396.5 747.1 L1406.6 765.3 L1416.7 785.4 L1459.8 878.6 L1480.0 919.6 L1491.4 940.7 L1501.5 958.0 L1511.6 974.1 L1523.0 990.5 L1533.1 1003.7 L1544.5 1017.1 L1555.9 1029.1 L1567.3 1039.7 L1580.0 1050.0 L1592.6 1059.0 L1605.3 1066.8 L1619.2 1074.1" stroke="#ffffae"/>
<path d="M987.8 1113.4 L1033.3 1112.6 L1065.0 1111.0 L1090.3 1108.2 L1100.4 1106.5 L1110.5 1104.2 L1120.6 1101.3 L1129.5 1098.1 L1138.4 1094.1 L1146.0 1090.0 L1153.5 1085.1 L1161.1 1079.4 L1168.7 1072.8 L1175.1 1066.6 L1182.6 1058.2 L1189.0 1050.5 L1196.6 1040.3 L1204.2 1029.1 L1219.3 1003.8 L1234.5 975.1 L1248.4 946.1 L1262.4 914.7 L1302.9 816.5 L1314.2 789.8 L1324.4 767.8 L1334.5 748.2 L1340.8 737.5 L1345.9 730.0 L1350.9 723.5 L1356.0 718.0 L1361.1 713.6 L1366.1 710.4 L1371.2 708.4 L1375.0 707.7 L1380.0 707.8 L1385.1 709.1 L1390.2 711.6 L1396.5 716.3 L1401.5 721.3 L1407.9 728.8 L1412.9 735.9 L1419.3 745.9 L1429.4 764.1 L1439.5 784.4 L1481.3 875.6 L1500.2 914.6 L1510.4 933.8 L1520.5 951.8 L1529.3 966.3 L1539.5 981.7 L1548.3 994.1 L1558.4 1007.0 L1567.3 1017.3 L1577.4 1028.0 L1587.6 1037.6 L1597.7 1046.2 L1607.8 1053.9 L1619.2 1061.6" stroke="#ffff79"/>
<path d="M987.8 1113.6 L1040.9 1113.0 L1076.4 1111.8 L1104.2 1109.5 L1115.6 1107.9 L1127.0 1105.8 L1137.1 1103.4 L1146.0 1100.7 L1154.8 1097.3 L1163.7 1093.1 L1172.5 1087.9 L1180.1 1082.7 L1187.7 1076.6 L1195.3 1069.6 L1202.9 1061.6 L1210.5 1052.6 L1218.1 1042.7 L1225.7 1031.7 L1240.9 1007.1 L1257.3 976.5 L1271.2 947.7 L1286.4 913.5 L1300.3 880.1 L1326.9 814.4 L1338.3 787.5 L1348.4 765.4 L1358.5 745.9 L1368.6 729.7 L1373.7 723.1 L1378.8 717.6 L1383.8 713.2 L1388.9 710.0 L1394.0 708.1 L1397.8 707.4 L1401.5 707.5 L1406.6 708.6 L1410.4 710.3 L1415.5 713.5 L1420.5 717.9 L1425.6 723.3 L1430.7 729.7 L1435.7 737.0 L1445.8 754.0 L1456.0 773.5 L1467.3 797.4 L1497.7 864.8 L1511.6 894.5 L1528.1 927.2 L1543.3 954.4 L1552.1 968.8 L1561.0 982.2 L1569.8 994.6 L1580.0 1007.5 L1588.8 1017.8 L1598.9 1028.4 L1609.1 1038.0 L1619.2 1046.6" stroke="#ffff43"/>
<path d="M987.8 1113.7 L1049.8 1113.2 L1089.0 1112.2 L1118.1 1110.2 L1130.8 1108.7 L1142.2 1106.9 L1153.5 1104.5 L1163.7 1101.6 L1172.5 1098.4 L1181.4 1094.5 L1190.2 1089.7 L1197.8 1084.7 L1205.4 1078.9 L1213.0 1072.2 L1221.9 1063.2 L1229.5 1054.5 L1237.1 1044.8 L1245.9 1032.3 L1253.5 1020.5 L1262.4 1005.7 L1278.8 975.2 L1292.7 946.3 L1307.9 911.9 L1321.8 878.2 L1348.4 811.8 L1359.8 784.7 L1369.9 762.6 L1378.8 745.4 L1383.8 736.8 L1388.9 729.1 L1394.0 722.4 L1397.8 718.2 L1402.8 713.6 L1407.9 710.2 L1412.9 708.0 L1416.7 707.3 L1420.5 707.2 L1425.6 708.3 L1430.7 710.6 L1435.7 714.1 L1440.8 718.7 L1445.8 724.4 L1450.9 731.1 L1456.0 738.7 L1466.1 756.2 L1476.2 776.1 L1487.6 800.5 L1526.8 887.5 L1540.7 916.0 L1554.7 942.2 L1569.8 967.8 L1577.4 979.4 L1586.3 992.1 L1593.9 1002.1 L1602.7 1012.8 L1610.3 1021.3 L1619.2 1030.4" stroke="#ffff0d"/>
<path d="M987.8 1113.7 L1058.6 1113.4 L1102.9 1112.5 L1135.8 1110.7 L1161.1 1107.7 L1172.5 1105.6 L1182.6 1103.0 L1192.8 1099.7 L1201.6 1096.1 L1210.5 1091.6 L1218.1 1087.0 L1226.9 1080.6 L1234.5 1074.2 L1243.4 1065.5 L1251.0 1057.1 L1259.8 1046.1 L1268.7 1033.8 L1276.3 1022.3 L1285.1 1007.8 L1294.0 992.1 L1302.9 975.2 L1316.8 946.4 L1332.0 911.9 L1345.9 877.9 L1372.4 810.7 L1383.8 783.2 L1394.0 760.9 L1402.8 743.7 L1411.7 729.3 L1416.7 722.5 L1420.5 718.2 L1425.6 713.5 L1429.4 710.8 L1434.4 708.3 L1438.2 707.3 L1443.3 707.2 L1448.4 708.3 L1453.4 710.7 L1458.5 714.3 L1463.5 719.1 L1468.6 725.0 L1473.7 731.9 L1480.0 741.8 L1490.1 760.0 L1500.2 780.6 L1544.5 879.3 L1555.9 903.3 L1567.3 925.9 L1580.0 949.0 L1592.6 970.0 L1605.3 988.8 L1619.2 1007.0" stroke="#ffd700"/>
<path d="M987.8 1113.8 L1067.5 1113.5 L1114.3 1112.7 L1148.5 1111.1 L1173.8 1108.5 L1185.2 1106.6 L1196.6 1104.0 L1206.7 1101.0 L1215.5 1097.7 L1224.4 1093.5 L1233.3 1088.5 L1242.1 1082.4 L1249.7 1076.2 L1257.3 1069.2 L1264.9 1061.3 L1272.5 1052.4 L1280.1 1042.7 L1295.3 1020.6 L1310.4 994.9 L1326.9 963.2 L1344.6 924.4 L1361.1 884.5 L1396.5 794.2 L1405.3 773.4 L1414.2 754.4 L1424.3 735.7 L1429.4 728.0 L1434.4 721.3 L1439.5 715.8 L1444.6 711.7 L1449.6 708.8 L1453.4 707.6 L1458.5 707.1 L1463.5 708.0 L1468.6 710.2 L1473.7 713.6 L1478.7 718.3 L1485.1 725.7 L1490.1 732.7 L1496.4 742.9 L1505.3 759.0 L1515.4 779.7 L1557.2 873.4 L1577.4 915.9 L1588.8 937.7 L1598.9 955.6 L1609.1 972.0 L1619.2 987.0" stroke="#ffa100"/>
<path d="M987.8 1113.8 L1076.4 1113.6 L1125.7 1112.9 L1161.1 1111.4 L1187.7 1108.9 L1200.4 1107.0 L1211.7 1104.5 L1221.9 1101.7 L1232.0 1098.0 L1240.9 1093.9 L1249.7 1089.0 L1258.6 1083.0 L1266.2 1077.0 L1273.7 1070.1 L1281.3 1062.3 L1288.9 1053.7 L1297.8 1042.5 L1306.6 1030.2 L1314.2 1018.7 L1329.4 993.0 L1338.3 976.3 L1345.9 961.0 L1362.3 924.6 L1378.8 884.2 L1414.2 792.6 L1423.1 771.5 L1431.9 752.4 L1442.0 733.9 L1447.1 726.3 L1452.2 719.8 L1457.2 714.6 L1461.0 711.6 L1466.1 708.8 L1469.9 707.7 L1474.9 707.3 L1480.0 708.3 L1485.1 710.7 L1490.1 714.4 L1495.2 719.3 L1500.2 725.3 L1505.3 732.4 L1511.6 742.6 L1520.5 758.8 L1531.9 782.4 L1569.8 868.4 L1586.3 903.8 L1602.7 936.0 L1619.2 964.5" stroke="#ff6b00"/>
<path d="M987.8 1113.8 L1085.2 1113.6 L1138.4 1113.0 L1176.3 1111.7 L1204.2 1109.3 L1216.8 1107.5 L1228.2 1105.2 L1238.3 1102.6 L1248.4 1099.1 L1257.3 1095.3 L1266.2 1090.7 L1275.0 1085.0 L1283.9 1078.3 L1292.7 1070.5 L1300.3 1062.9 L1309.2 1053.0 L1318.0 1041.9 L1326.9 1029.7 L1334.5 1018.3 L1343.3 1003.8 L1350.9 990.4 L1359.8 973.5 L1367.4 957.9 L1383.8 920.7 L1399.0 882.6 L1431.9 795.9 L1440.8 774.2 L1449.6 754.5 L1459.8 735.4 L1464.8 727.5 L1468.6 722.3 L1473.7 716.6 L1477.5 713.2 L1482.5 709.9 L1486.3 708.4 L1491.4 707.6 L1496.4 708.3 L1501.5 710.4 L1506.6 713.8 L1511.6 718.5 L1516.7 724.3 L1521.8 731.3 L1528.1 741.3 L1536.9 757.5 L1545.8 775.7 L1593.9 884.2 L1606.5 910.8 L1619.2 935.3" stroke="#ff3600"/>
<path d="M987.8 1113.8 L1099.1 1113.7 L1154.8 1113.2 L1194.0 1112.0 L1223.1 1109.9 L1237.1 1108.2 L1248.4 1106.2 L1259.8 1103.4 L1270.0 1100.3 L1280.1 1096.2 L1288.9 1091.7 L1297.8 1086.3 L1306.6 1079.9 L1315.5 1072.4 L1324.4 1063.9 L1333.2 1054.2 L1342.1 1043.5 L1350.9 1031.6 L1359.8 1018.5 L1368.6 1004.2 L1376.2 990.8 L1391.4 960.7 L1407.9 923.4 L1423.1 884.9 L1457.2 793.4 L1466.1 771.5 L1473.7 754.5 L1483.8 735.2 L1488.9 727.3 L1492.7 722.2 L1497.7 716.6 L1501.5 713.3 L1505.3 710.8 L1509.1 709.2 L1512.9 708.4 L1518.0 708.6 L1523.0 710.3 L1528.1 713.4 L1533.1 717.8 L1538.2 723.5 L1543.3 730.3 L1548.3 738.1 L1558.4 756.2 L1569.8 779.7 L1605.3 860.6 L1619.2 891.3" stroke="#ff0000"/>
</g>
<clipPath id="clipe"><rect x="567.80" y="1268.60" width="650.60" height="477.00"/></clipPath>
<g clip-path="url(#clipe)" fill="none" stroke-width="2.6" stroke-linejoin="round" stroke-linecap="round">
<path d="M564.3 1530.3 L582.8 1535.0 L602.6 1540.7 L623.6 1547.4 L646.0 1555.1 L693.5 1572.9 L804.1 1617.5 L855.5 1637.3 L883.2 1647.3 L910.9 1656.7 L937.2 1665.1 L963.6 1672.9 L1009.7 1684.9 L1033.4 1690.3 L1057.1 1695.1 L1101.9 1702.9 L1155.9 1710.2 L1161.2 1711.2 L1165.2 1712.6 L1167.8 1714.1 L1177.0 1722.6 L1181.0 1724.9 L1183.6 1725.0 L1186.2 1724.0 L1194.2 1718.1 L1208.6 1710.2 L1210.0 1710.0 L1212.6 1710.7 L1217.9 1714.5 L1221.8 1716.2" stroke="#0000ff"/>
<path d="M564.3 1516.8 L588.1 1521.8 L613.1 1528.2 L639.4 1536.2 L667.1 1545.4 L719.8 1565.1 L831.8 1610.1 L881.9 1629.4 L935.9 1648.7 L986.0 1664.5 L1026.8 1675.9 L1069.0 1686.1 L1108.5 1694.3 L1161.2 1703.7 L1165.2 1705.2 L1167.8 1706.6 L1177.0 1714.3 L1181.0 1716.5 L1183.6 1716.8 L1186.2 1716.0 L1194.2 1711.4 L1208.6 1705.5 L1210.0 1705.4 L1212.6 1706.2 L1217.9 1709.6 L1221.8 1711.3" stroke="#1b1bff"/>
<path d="M564.3 1505.9 L590.7 1510.0 L619.7 1516.3 L650.0 1524.6 L682.9 1535.2 L711.9 1545.6 L743.5 1557.6 L860.8 1605.0 L910.9 1624.5 L963.6 1643.5 L1012.3 1659.3 L1046.6 1669.2 L1082.2 1678.5 L1115.1 1686.3 L1161.2 1696.1 L1167.8 1698.9 L1177.0 1705.8 L1181.0 1707.9 L1183.6 1708.2 L1186.2 1707.8 L1194.2 1704.5 L1208.6 1700.5 L1210.0 1700.5 L1212.6 1701.3 L1217.9 1704.5 L1221.8 1706.1" stroke="#3636ff"/>
<path d="M564.3 1493.3 L593.3 1498.4 L623.6 1505.5 L655.3 1514.4 L690.8 1525.8 L721.1 1536.5 L754.1 1548.8 L874.0 1595.8 L925.4 1615.3 L978.1 1634.1 L1026.8 1650.2 L1058.4 1659.8 L1090.1 1668.8 L1161.2 1687.1 L1167.8 1689.9 L1178.3 1697.3 L1182.3 1698.9 L1186.2 1698.8 L1194.2 1696.6 L1208.6 1694.1 L1212.6 1695.1 L1217.9 1698.2 L1221.8 1699.9" stroke="#5151ff"/>
<path d="M564.3 1480.5 L598.6 1488.4 L635.5 1498.1 L673.7 1509.5 L715.9 1523.2 L784.4 1547.4 L939.9 1605.5 L1012.3 1631.5 L1050.5 1644.5 L1086.1 1655.9 L1117.7 1665.5 L1162.5 1678.4 L1167.8 1680.7 L1177.0 1686.8 L1181.0 1688.8 L1183.6 1689.4 L1186.2 1689.4 L1194.2 1688.0 L1208.6 1686.8 L1212.6 1687.8 L1217.9 1690.6 L1221.8 1692.2" stroke="#6b6bff"/>
<path d="M564.3 1465.7 L701.4 1508.1 L752.8 1524.8 L801.5 1541.3 L879.2 1568.9 L1012.3 1618.0 L1061.1 1635.5 L1111.1 1652.6 L1162.5 1668.7 L1167.8 1671.0 L1177.0 1676.4 L1181.0 1678.2 L1186.2 1679.0 L1194.2 1678.5 L1208.6 1678.5 L1212.6 1679.5 L1221.8 1683.4" stroke="#8686ff"/>
<path d="M564.3 1448.4 L585.4 1457.6 L606.5 1466.1 L630.2 1475.0 L655.3 1483.8 L700.1 1498.6 L829.2 1539.3 L868.7 1552.4 L908.2 1566.1 L963.6 1586.2 L1091.4 1634.2 L1125.6 1646.3 L1163.8 1658.9 L1181.0 1666.9 L1186.2 1667.9 L1208.6 1669.1 L1212.6 1670.1 L1221.8 1673.4" stroke="#a1a1ff"/>
<path d="M564.3 1427.9 L589.4 1442.3 L617.1 1456.2 L646.0 1468.8 L677.7 1480.9 L702.7 1489.6 L731.7 1498.8 L862.1 1538.3 L922.7 1558.3 L982.0 1579.8 L1096.7 1624.2 L1129.6 1636.4 L1163.8 1648.2 L1181.0 1655.5 L1186.2 1656.7 L1210.0 1660.0 L1221.8 1663.6" stroke="#bcbcff"/>
<path d="M564.3 1407.4 L577.5 1417.2 L592.0 1427.0 L606.5 1436.0 L622.3 1445.0 L638.1 1453.1 L653.9 1460.5 L671.1 1467.9 L689.5 1475.1 L714.6 1484.0 L743.5 1493.3 L864.8 1528.6 L896.4 1538.3 L926.7 1548.2 L959.6 1559.6 L993.9 1572.2 L1113.8 1619.4 L1165.2 1638.2 L1179.7 1643.9 L1186.2 1645.8 L1210.0 1650.7 L1221.8 1654.1" stroke="#d7d7ff"/>
<path d="M564.3 1384.8 L578.8 1397.5 L594.7 1410.0 L610.5 1421.4 L627.6 1432.4 L644.7 1442.4 L663.2 1451.9 L681.6 1460.5 L701.4 1468.7 L729.0 1478.9 L759.3 1488.8 L791.0 1498.2 L887.2 1525.8 L920.1 1535.9 L951.7 1546.3 L983.3 1557.4 L1016.3 1569.6 L1125.6 1612.9 L1178.3 1632.8 L1187.6 1635.8 L1221.8 1645.3" stroke="#f2f2ff"/>
<path d="M564.3 1362.7 L581.5 1378.6 L598.6 1393.1 L615.7 1406.1 L634.2 1418.7 L652.6 1430.1 L672.4 1441.0 L693.5 1451.4 L715.9 1461.3 L746.2 1473.1 L781.7 1485.3 L816.0 1496.0 L918.8 1526.9 L953.0 1537.9 L986.0 1549.1 L1016.3 1559.9 L1049.2 1572.2 L1171.8 1620.0 L1198.1 1629.6 L1221.8 1637.6" stroke="#ffffe4"/>
<path d="M564.3 1346.4 L594.7 1370.0 L618.4 1387.7 L640.8 1403.5 L661.8 1417.3 L685.6 1431.7 L709.3 1444.9 L733.0 1457.0 L755.4 1467.2 L780.4 1477.2 L806.8 1486.2 L833.1 1494.1 L900.3 1513.0 L920.1 1519.2 L941.2 1526.3 L1034.7 1560.2 L1137.5 1596.7 L1179.7 1612.8 L1221.8 1630.0" stroke="#ffffae"/>
<path d="M564.3 1329.1 L602.6 1358.1 L635.5 1382.5 L663.2 1402.3 L685.6 1417.5 L706.6 1430.8 L726.4 1442.2 L747.5 1453.2 L768.6 1463.1 L794.9 1474.1 L822.6 1484.1 L847.6 1491.9 L901.6 1506.5 L926.7 1514.1 L1083.5 1568.4 L1121.7 1582.1 L1155.9 1595.1 L1190.2 1608.9 L1221.8 1622.3" stroke="#ffff79"/>
<path d="M564.3 1319.4 L598.6 1341.1 L625.0 1358.6 L644.7 1372.3 L693.5 1407.4 L719.8 1425.0 L738.3 1436.1 L758.0 1447.2 L779.1 1458.0 L798.9 1467.4 L821.3 1476.9 L843.7 1484.9 L862.1 1490.4 L904.3 1501.6 L924.0 1507.4 L988.6 1529.1 L1050.5 1548.9 L1080.8 1559.1 L1119.0 1573.0 L1157.3 1587.7 L1191.5 1601.9 L1221.8 1615.4" stroke="#ffff43"/>
<path d="M564.3 1312.4 L598.6 1329.5 L627.6 1346.0 L653.9 1363.1 L714.6 1406.3 L748.8 1429.1 L768.6 1441.3 L788.3 1452.7 L806.8 1462.5 L823.9 1470.6 L843.7 1478.9 L866.1 1486.6 L921.4 1502.5 L983.3 1521.4 L1041.3 1538.3 L1062.4 1544.9 L1083.5 1552.0 L1121.7 1566.1 L1159.9 1581.4 L1192.8 1595.8 L1221.8 1609.9" stroke="#ffff0d"/>
<path d="M564.3 1299.7 L582.8 1308.8 L601.2 1318.5 L618.4 1328.1 L634.2 1337.6 L664.5 1357.5 L734.3 1406.9 L771.2 1431.7 L789.7 1443.3 L806.8 1453.4 L822.6 1462.0 L837.1 1469.1 L848.9 1474.3 L862.1 1479.5 L891.1 1489.2 L959.6 1509.2 L1043.9 1532.4 L1066.3 1539.2 L1090.1 1547.2 L1125.6 1560.2 L1161.2 1574.5 L1192.8 1588.5 L1221.8 1602.9" stroke="#ffd700"/>
<path d="M564.3 1306.5 L588.1 1312.9 L610.5 1320.5 L631.5 1329.5 L651.3 1339.7 L668.4 1349.9 L688.2 1362.8 L764.6 1416.4 L797.6 1438.4 L813.4 1448.2 L829.2 1457.3 L842.4 1464.2 L856.9 1470.9 L871.3 1476.9 L885.8 1482.3 L921.4 1493.7 L962.3 1505.1 L1047.9 1527.1 L1072.9 1534.5 L1098.0 1542.6 L1132.2 1555.1 L1163.8 1568.0 L1194.2 1581.8 L1221.8 1596.0" stroke="#ffa100"/>
<path d="M564.3 1309.1 L593.3 1317.1 L623.6 1327.5 L653.9 1340.0 L681.6 1353.3 L701.4 1364.1 L721.1 1376.2 L789.7 1422.9 L820.0 1442.3 L834.5 1450.8 L848.9 1458.6 L863.4 1465.7 L879.2 1472.8 L906.9 1483.5 L937.2 1493.1 L966.2 1500.8 L1047.9 1520.6 L1072.9 1527.7 L1098.0 1535.7 L1130.9 1547.4 L1163.8 1560.5 L1194.2 1573.9 L1221.8 1587.5" stroke="#ff6b00"/>
<path d="M564.3 1326.8 L581.5 1328.9 L598.6 1331.7 L617.1 1335.3 L638.1 1340.2 L656.6 1345.1 L672.4 1349.9 L686.9 1355.0 L700.1 1360.4 L717.2 1368.7 L737.0 1380.1 L755.4 1391.7 L810.7 1428.2 L843.7 1448.2 L859.5 1456.8 L875.3 1464.8 L891.1 1472.0 L906.9 1478.5 L928.0 1485.8 L951.7 1492.6 L976.8 1498.6 L1051.9 1515.0 L1075.6 1521.2 L1100.6 1528.7 L1132.2 1539.5 L1163.8 1551.8 L1192.8 1564.5 L1221.8 1578.7" stroke="#ff3600"/>
<path d="M564.3 1359.1 L581.5 1358.4 L601.2 1358.7 L622.3 1360.0 L647.4 1362.3 L667.1 1364.7 L684.2 1367.6 L700.1 1371.1 L714.6 1375.3 L726.4 1379.4 L739.6 1384.6 L752.8 1390.6 L767.3 1397.8 L794.9 1413.3 L851.6 1447.7 L874.0 1460.8 L897.7 1473.1 L918.8 1482.2 L929.3 1485.9 L941.2 1489.6 L966.2 1495.7 L992.6 1500.4 L1042.6 1507.4 L1063.7 1510.8 L1088.7 1515.9 L1112.5 1522.0 L1140.1 1530.9 L1167.8 1541.8 L1195.5 1554.8 L1221.8 1569.1" stroke="#ff0000"/>
</g>
<path d="M153.00 489.50V495.50M153.00 19.00V25.00M159.93 489.50V495.50M159.93 19.00V25.00M165.78 489.50V495.50M165.78 19.00V25.00M170.86 489.50V495.50M170.86 19.00V25.00M175.33 489.50V495.50M175.33 19.00V25.00M179.34 489.50V500.00M179.34 19.00V29.50M205.68 489.50V495.50M205.68 19.00V25.00M221.08 489.50V495.50M221.08 19.00V25.00M232.01 489.50V495.50M232.01 19.00V25.00M240.49 489.50V495.50M240.49 19.00V25.00M247.42 489.50V495.50M247.42 19.00V25.00M253.28 489.50V495.50M253.28 19.00V25.00M258.35 489.50V495.50M258.35 19.00V25.00M262.83 489.50V495.50M262.83 19.00V25.00M266.83 489.50V500.00M266.83 19.00V29.50M293.17 489.50V495.50M293.17 19.00V25.00M308.57 489.50V495.50M308.57 19.00V25.00M319.50 489.50V495.50M319.50 19.00V25.00M327.98 489.50V495.50M327.98 19.00V25.00M334.91 489.50V495.50M334.91 19.00V25.00M340.77 489.50V495.50M340.77 19.00V25.00M345.84 489.50V495.50M345.84 19.00V25.00M350.32 489.50V495.50M350.32 19.00V25.00M354.32 489.50V500.00M354.32 19.00V29.50M380.66 489.50V495.50M380.66 19.00V25.00M396.06 489.50V495.50M396.06 19.00V25.00M407.00 489.50V495.50M407.00 19.00V25.00M415.47 489.50V495.50M415.47 19.00V25.00M422.40 489.50V495.50M422.40 19.00V25.00M428.26 489.50V495.50M428.26 19.00V25.00M433.33 489.50V495.50M433.33 19.00V25.00M437.81 489.50V495.50M437.81 19.00V25.00M441.81 489.50V500.00M441.81 19.00V29.50M468.15 489.50V495.50M468.15 19.00V25.00M483.56 489.50V495.50M483.56 19.00V25.00M494.49 489.50V495.50M494.49 19.00V25.00M502.97 489.50V495.50M502.97 19.00V25.00M509.89 489.50V495.50M509.89 19.00V25.00M515.75 489.50V495.50M515.75 19.00V25.00M520.83 489.50V495.50M520.83 19.00V25.00M525.30 489.50V495.50M525.30 19.00V25.00M529.30 489.50V500.00M529.30 19.00V29.50M555.64 489.50V495.50M555.64 19.00V25.00M571.05 489.50V495.50M571.05 19.00V25.00M581.98 489.50V495.50M581.98 19.00V25.00M590.46 489.50V495.50M590.46 19.00V25.00M597.39 489.50V495.50M597.39 19.00V25.00M603.24 489.50V495.50M603.24 19.00V25.00M608.32 489.50V495.50M608.32 19.00V25.00M612.79 489.50V495.50M612.79 19.00V25.00M616.80 489.50V500.00M616.80 19.00V29.50M643.13 489.50V495.50M643.13 19.00V25.00M658.54 489.50V495.50M658.54 19.00V25.00M669.47 489.50V495.50M669.47 19.00V25.00M677.95 489.50V495.50M677.95 19.00V25.00M684.88 489.50V495.50M684.88 19.00V25.00M690.73 489.50V495.50M690.73 19.00V25.00M695.81 489.50V495.50M695.81 19.00V25.00M700.28 489.50V495.50M700.28 19.00V25.00M704.29 489.50V500.00M704.29 19.00V29.50M730.62 489.50V495.50M730.62 19.00V25.00M746.03 489.50V495.50M746.03 19.00V25.00M756.96 489.50V495.50M756.96 19.00V25.00M765.44 489.50V495.50M765.44 19.00V25.00M772.37 489.50V495.50M772.37 19.00V25.00M778.23 489.50V495.50M778.23 19.00V25.00M783.30 489.50V495.50M783.30 19.00V25.00M787.78 489.50V495.50M787.78 19.00V25.00M791.78 489.50V500.00M791.78 19.00V29.50M142.50 454.50H153.00M784.90 454.50H795.40M142.50 333.22H153.00M784.90 333.22H795.40M142.50 211.95H153.00M784.90 211.95H795.40M142.50 90.67H153.00M784.90 90.67H795.40M147.00 481.40H153.00M789.40 481.40H795.40M147.00 473.29H153.00M789.40 473.29H795.40M147.00 466.25H153.00M789.40 466.25H795.40M147.00 460.05H153.00M789.40 460.05H795.40M147.00 417.99H153.00M789.40 417.99H795.40M147.00 396.64H153.00M789.40 396.64H795.40M147.00 381.48H153.00M789.40 381.48H795.40M147.00 369.73H153.00M789.40 369.73H795.40M147.00 360.13H153.00M789.40 360.13H795.40M147.00 352.01H153.00M789.40 352.01H795.40M147.00 344.98H153.00M789.40 344.98H795.40M147.00 338.77H153.00M789.40 338.77H795.40M147.00 296.72H153.00M789.40 296.72H795.40M147.00 275.36H153.00M789.40 275.36H795.40M147.00 260.21H153.00M789.40 260.21H795.40M147.00 248.46H153.00M789.40 248.46H795.40M147.00 238.85H153.00M789.40 238.85H795.40M147.00 230.73H153.00M789.40 230.73H795.40M147.00 223.70H153.00M789.40 223.70H795.40M147.00 217.50H153.00M789.40 217.50H795.40M147.00 175.44H153.00M789.40 175.44H795.40M147.00 154.09H153.00M789.40 154.09H795.40M147.00 138.93H153.00M789.40 138.93H795.40M147.00 127.18H153.00M789.40 127.18H795.40M147.00 117.58H153.00M789.40 117.58H795.40M147.00 109.46H153.00M789.40 109.46H795.40M147.00 102.43H153.00M789.40 102.43H795.40M147.00 96.22H153.00M789.40 96.22H795.40M147.00 54.17H153.00M789.40 54.17H795.40M147.00 32.81H153.00M789.40 32.81H795.40" stroke="#000" stroke-width="2.0" fill="none"/>
<rect x="153.00" y="19.00" width="642.40" height="470.50" fill="none" stroke="#000" stroke-width="2.0"/>
<path d="M987.90 487.00V493.00M987.90 17.20V23.20M994.80 487.00V493.00M994.80 17.20V23.20M1000.63 487.00V493.00M1000.63 17.20V23.20M1005.68 487.00V493.00M1005.68 17.20V23.20M1010.14 487.00V493.00M1010.14 17.20V23.20M1014.13 487.00V497.50M1014.13 17.20V27.70M1040.35 487.00V493.00M1040.35 17.20V23.20M1055.70 487.00V493.00M1055.70 17.20V23.20M1066.58 487.00V493.00M1066.58 17.20V23.20M1075.02 487.00V493.00M1075.02 17.20V23.20M1081.92 487.00V493.00M1081.92 17.20V23.20M1087.76 487.00V493.00M1087.76 17.20V23.20M1092.81 487.00V493.00M1092.81 17.20V23.20M1097.26 487.00V493.00M1097.26 17.20V23.20M1101.25 487.00V497.50M1101.25 17.20V27.70M1127.48 487.00V493.00M1127.48 17.20V23.20M1142.82 487.00V493.00M1142.82 17.20V23.20M1153.70 487.00V493.00M1153.70 17.20V23.20M1162.15 487.00V493.00M1162.15 17.20V23.20M1169.05 487.00V493.00M1169.05 17.20V23.20M1174.88 487.00V493.00M1174.88 17.20V23.20M1179.93 487.00V493.00M1179.93 17.20V23.20M1184.39 487.00V493.00M1184.39 17.20V23.20M1188.37 487.00V497.50M1188.37 17.20V27.70M1214.60 487.00V493.00M1214.60 17.20V23.20M1229.94 487.00V493.00M1229.94 17.20V23.20M1240.83 487.00V493.00M1240.83 17.20V23.20M1249.27 487.00V493.00M1249.27 17.20V23.20M1256.17 487.00V493.00M1256.17 17.20V23.20M1262.00 487.00V493.00M1262.00 17.20V23.20M1267.06 487.00V493.00M1267.06 17.20V23.20M1271.51 487.00V493.00M1271.51 17.20V23.20M1275.50 487.00V497.50M1275.50 17.20V27.70M1301.73 487.00V493.00M1301.73 17.20V23.20M1317.07 487.00V493.00M1317.07 17.20V23.20M1327.95 487.00V493.00M1327.95 17.20V23.20M1336.40 487.00V493.00M1336.40 17.20V23.20M1343.29 487.00V493.00M1343.29 17.20V23.20M1349.13 487.00V493.00M1349.13 17.20V23.20M1354.18 487.00V493.00M1354.18 17.20V23.20M1358.64 487.00V493.00M1358.64 17.20V23.20M1362.62 487.00V497.50M1362.62 17.20V27.70M1388.85 487.00V493.00M1388.85 17.20V23.20M1404.19 487.00V493.00M1404.19 17.20V23.20M1415.08 487.00V493.00M1415.08 17.20V23.20M1423.52 487.00V493.00M1423.52 17.20V23.20M1430.42 487.00V493.00M1430.42 17.20V23.20M1436.25 487.00V493.00M1436.25 17.20V23.20M1441.30 487.00V493.00M1441.30 17.20V23.20M1445.76 487.00V493.00M1445.76 17.20V23.20M1449.75 487.00V497.50M1449.75 17.20V27.70M1475.97 487.00V493.00M1475.97 17.20V23.20M1491.31 487.00V493.00M1491.31 17.20V23.20M1502.20 487.00V493.00M1502.20 17.20V23.20M1510.64 487.00V493.00M1510.64 17.20V23.20M1517.54 487.00V493.00M1517.54 17.20V23.20M1523.37 487.00V493.00M1523.37 17.20V23.20M1528.43 487.00V493.00M1528.43 17.20V23.20M1532.88 487.00V493.00M1532.88 17.20V23.20M1536.87 487.00V497.50M1536.87 17.20V27.70M1563.10 487.00V493.00M1563.10 17.20V23.20M1578.44 487.00V493.00M1578.44 17.20V23.20M1589.32 487.00V493.00M1589.32 17.20V23.20M1597.77 487.00V493.00M1597.77 17.20V23.20M1604.67 487.00V493.00M1604.67 17.20V23.20M1610.50 487.00V493.00M1610.50 17.20V23.20M1615.55 487.00V493.00M1615.55 17.20V23.20M1620.01 487.00V493.00M1620.01 17.20V23.20M1623.99 487.00V497.50M1623.99 17.20V27.70M977.40 487.00H987.90M1617.10 487.00H1627.60M977.40 432.60H987.90M1617.10 432.60H1627.60M977.40 378.20H987.90M1617.10 378.20H1627.60M977.40 323.80H987.90M1617.10 323.80H1627.60M977.40 269.40H987.90M1617.10 269.40H1627.60M977.40 215.00H987.90M1617.10 215.00H1627.60M977.40 160.60H987.90M1617.10 160.60H1627.60M977.40 106.20H987.90M1617.10 106.20H1627.60M977.40 51.80H987.90M1617.10 51.80H1627.60M981.90 470.62H987.90M1621.60 470.62H1627.60M981.90 461.04H987.90M1621.60 461.04H1627.60M981.90 454.25H987.90M1621.60 454.25H1627.60M981.90 448.98H987.90M1621.60 448.98H1627.60M981.90 444.67H987.90M1621.60 444.67H1627.60M981.90 441.03H987.90M1621.60 441.03H1627.60M981.90 437.87H987.90M1621.60 437.87H1627.60M981.90 435.09H987.90M1621.60 435.09H1627.60M981.90 416.22H987.90M1621.60 416.22H1627.60M981.90 406.64H987.90M1621.60 406.64H1627.60M981.90 399.85H987.90M1621.60 399.85H1627.60M981.90 394.58H987.90M1621.60 394.58H1627.60M981.90 390.27H987.90M1621.60 390.27H1627.60M981.90 386.63H987.90M1621.60 386.63H1627.60M981.90 383.47H987.90M1621.60 383.47H1627.60M981.90 380.69H987.90M1621.60 380.69H1627.60M981.90 361.82H987.90M1621.60 361.82H1627.60M981.90 352.24H987.90M1621.60 352.24H1627.60M981.90 345.45H987.90M1621.60 345.45H1627.60M981.90 340.18H987.90M1621.60 340.18H1627.60M981.90 335.87H987.90M1621.60 335.87H1627.60M981.90 332.23H987.90M1621.60 332.23H1627.60M981.90 329.07H987.90M1621.60 329.07H1627.60M981.90 326.29H987.90M1621.60 326.29H1627.60M981.90 307.42H987.90M1621.60 307.42H1627.60M981.90 297.84H987.90M1621.60 297.84H1627.60M981.90 291.05H987.90M1621.60 291.05H1627.60M981.90 285.78H987.90M1621.60 285.78H1627.60M981.90 281.47H987.90M1621.60 281.47H1627.60M981.90 277.83H987.90M1621.60 277.83H1627.60M981.90 274.67H987.90M1621.60 274.67H1627.60M981.90 271.89H987.90M1621.60 271.89H1627.60M981.90 253.02H987.90M1621.60 253.02H1627.60M981.90 243.44H987.90M1621.60 243.44H1627.60M981.90 236.65H987.90M1621.60 236.65H1627.60M981.90 231.38H987.90M1621.60 231.38H1627.60M981.90 227.07H987.90M1621.60 227.07H1627.60M981.90 223.43H987.90M1621.60 223.43H1627.60M981.90 220.27H987.90M1621.60 220.27H1627.60M981.90 217.49H987.90M1621.60 217.49H1627.60M981.90 198.62H987.90M1621.60 198.62H1627.60M981.90 189.04H987.90M1621.60 189.04H1627.60M981.90 182.25H987.90M1621.60 182.25H1627.60M981.90 176.97H987.90M1621.60 176.97H1627.60M981.90 172.67H987.90M1621.60 172.67H1627.60M981.90 169.03H987.90M1621.60 169.03H1627.60M981.90 165.87H987.90M1621.60 165.87H1627.60M981.90 163.09H987.90M1621.60 163.09H1627.60M981.90 144.22H987.90M1621.60 144.22H1627.60M981.90 134.64H987.90M1621.60 134.64H1627.60M981.90 127.85H987.90M1621.60 127.85H1627.60M981.90 122.57H987.90M1621.60 122.57H1627.60M981.90 118.27H987.90M1621.60 118.27H1627.60M981.90 114.63H987.90M1621.60 114.63H1627.60M981.90 111.47H987.90M1621.60 111.47H1627.60M981.90 108.69H987.90M1621.60 108.69H1627.60M981.90 89.82H987.90M1621.60 89.82H1627.60M981.90 80.24H987.90M1621.60 80.24H1627.60M981.90 73.45H987.90M1621.60 73.45H1627.60M981.90 68.17H987.90M1621.60 68.17H1627.60M981.90 63.87H987.90M1621.60 63.87H1627.60M981.90 60.23H987.90M1621.60 60.23H1627.60M981.90 57.07H987.90M1621.60 57.07H1627.60M981.90 54.29H987.90M1621.60 54.29H1627.60M981.90 35.42H987.90M1621.60 35.42H1627.60M981.90 25.84H987.90M1621.60 25.84H1627.60M981.90 19.05H987.90M1621.60 19.05H1627.60" stroke="#000" stroke-width="2.0" fill="none"/>
<rect x="987.90" y="17.20" width="639.70" height="469.80" fill="none" stroke="#000" stroke-width="2.0"/>
<path d="M567.80 1745.60V1751.60M567.80 1268.60V1274.60M574.82 1745.60V1751.60M574.82 1268.60V1274.60M580.75 1745.60V1751.60M580.75 1268.60V1274.60M585.89 1745.60V1751.60M585.89 1268.60V1274.60M590.42 1745.60V1751.60M590.42 1268.60V1274.60M594.47 1745.60V1756.10M594.47 1268.60V1279.10M621.15 1745.60V1751.60M621.15 1268.60V1274.60M636.75 1745.60V1751.60M636.75 1268.60V1274.60M647.82 1745.60V1751.60M647.82 1268.60V1274.60M656.41 1745.60V1751.60M656.41 1268.60V1274.60M663.42 1745.60V1751.60M663.42 1268.60V1274.60M669.36 1745.60V1751.60M669.36 1268.60V1274.60M674.50 1745.60V1751.60M674.50 1268.60V1274.60M679.03 1745.60V1751.60M679.03 1268.60V1274.60M683.08 1745.60V1756.10M683.08 1268.60V1279.10M709.76 1745.60V1751.60M709.76 1268.60V1274.60M725.36 1745.60V1751.60M725.36 1268.60V1274.60M736.43 1745.60V1751.60M736.43 1268.60V1274.60M745.02 1745.60V1751.60M745.02 1268.60V1274.60M752.03 1745.60V1751.60M752.03 1268.60V1274.60M757.96 1745.60V1751.60M757.96 1268.60V1274.60M763.10 1745.60V1751.60M763.10 1268.60V1274.60M767.64 1745.60V1751.60M767.64 1268.60V1274.60M771.69 1745.60V1756.10M771.69 1268.60V1279.10M798.36 1745.60V1751.60M798.36 1268.60V1274.60M813.97 1745.60V1751.60M813.97 1268.60V1274.60M825.04 1745.60V1751.60M825.04 1268.60V1274.60M833.63 1745.60V1751.60M833.63 1268.60V1274.60M840.64 1745.60V1751.60M840.64 1268.60V1274.60M846.57 1745.60V1751.60M846.57 1268.60V1274.60M851.71 1745.60V1751.60M851.71 1268.60V1274.60M856.24 1745.60V1751.60M856.24 1268.60V1274.60M860.30 1745.60V1756.10M860.30 1268.60V1279.10M886.97 1745.60V1751.60M886.97 1268.60V1274.60M902.58 1745.60V1751.60M902.58 1268.60V1274.60M913.65 1745.60V1751.60M913.65 1268.60V1274.60M922.23 1745.60V1751.60M922.23 1268.60V1274.60M929.25 1745.60V1751.60M929.25 1268.60V1274.60M935.18 1745.60V1751.60M935.18 1268.60V1274.60M940.32 1745.60V1751.60M940.32 1268.60V1274.60M944.85 1745.60V1751.60M944.85 1268.60V1274.60M948.91 1745.60V1756.10M948.91 1268.60V1279.10M975.58 1745.60V1751.60M975.58 1268.60V1274.60M991.18 1745.60V1751.60M991.18 1268.60V1274.60M1002.25 1745.60V1751.60M1002.25 1268.60V1274.60M1010.84 1745.60V1751.60M1010.84 1268.60V1274.60M1017.86 1745.60V1751.60M1017.86 1268.60V1274.60M1023.79 1745.60V1751.60M1023.79 1268.60V1274.60M1028.93 1745.60V1751.60M1028.93 1268.60V1274.60M1033.46 1745.60V1751.60M1033.46 1268.60V1274.60M1037.52 1745.60V1756.10M1037.52 1268.60V1279.10M1064.19 1745.60V1751.60M1064.19 1268.60V1274.60M1079.79 1745.60V1751.60M1079.79 1268.60V1274.60M1090.86 1745.60V1751.60M1090.86 1268.60V1274.60M1099.45 1745.60V1751.60M1099.45 1268.60V1274.60M1106.47 1745.60V1751.60M1106.47 1268.60V1274.60M1112.40 1745.60V1751.60M1112.40 1268.60V1274.60M1117.54 1745.60V1751.60M1117.54 1268.60V1274.60M1122.07 1745.60V1751.60M1122.07 1268.60V1274.60M1126.12 1745.60V1756.10M1126.12 1268.60V1279.10M1152.80 1745.60V1751.60M1152.80 1268.60V1274.60M1168.40 1745.60V1751.60M1168.40 1268.60V1274.60M1179.47 1745.60V1751.60M1179.47 1268.60V1274.60M1188.06 1745.60V1751.60M1188.06 1268.60V1274.60M1195.07 1745.60V1751.60M1195.07 1268.60V1274.60M1201.01 1745.60V1751.60M1201.01 1268.60V1274.60M1206.15 1745.60V1751.60M1206.15 1268.60V1274.60M1210.68 1745.60V1751.60M1210.68 1268.60V1274.60M1214.73 1745.60V1756.10M1214.73 1268.60V1279.10M557.30 1745.60H567.80M1207.90 1745.60H1218.40M557.30 1664.42H567.80M1207.90 1664.42H1218.40M557.30 1583.24H567.80M1207.90 1583.24H1218.40M557.30 1502.07H567.80M1207.90 1502.07H1218.40M557.30 1420.89H567.80M1207.90 1420.89H1218.40M557.30 1339.71H567.80M1207.90 1339.71H1218.40M561.80 1721.16H567.80M1212.40 1721.16H1218.40M561.80 1706.87H567.80M1212.40 1706.87H1218.40M561.80 1696.73H567.80M1212.40 1696.73H1218.40M561.80 1688.86H567.80M1212.40 1688.86H1218.40M561.80 1682.43H567.80M1212.40 1682.43H1218.40M561.80 1677.00H567.80M1212.40 1677.00H1218.40M561.80 1672.29H567.80M1212.40 1672.29H1218.40M561.80 1668.14H567.80M1212.40 1668.14H1218.40M561.80 1639.99H567.80M1212.40 1639.99H1218.40M561.80 1625.69H567.80M1212.40 1625.69H1218.40M561.80 1615.55H567.80M1212.40 1615.55H1218.40M561.80 1607.68H567.80M1212.40 1607.68H1218.40M561.80 1601.25H567.80M1212.40 1601.25H1218.40M561.80 1595.82H567.80M1212.40 1595.82H1218.40M561.80 1591.11H567.80M1212.40 1591.11H1218.40M561.80 1586.96H567.80M1212.40 1586.96H1218.40M561.80 1558.81H567.80M1212.40 1558.81H1218.40M561.80 1544.51H567.80M1212.40 1544.51H1218.40M561.80 1534.37H567.80M1212.40 1534.37H1218.40M561.80 1526.50H567.80M1212.40 1526.50H1218.40M561.80 1520.08H567.80M1212.40 1520.08H1218.40M561.80 1514.64H567.80M1212.40 1514.64H1218.40M561.80 1509.93H567.80M1212.40 1509.93H1218.40M561.80 1505.78H567.80M1212.40 1505.78H1218.40M561.80 1477.63H567.80M1212.40 1477.63H1218.40M561.80 1463.34H567.80M1212.40 1463.34H1218.40M561.80 1453.19H567.80M1212.40 1453.19H1218.40M561.80 1445.33H567.80M1212.40 1445.33H1218.40M561.80 1438.90H567.80M1212.40 1438.90H1218.40M561.80 1433.46H567.80M1212.40 1433.46H1218.40M561.80 1428.76H567.80M1212.40 1428.76H1218.40M561.80 1424.60H567.80M1212.40 1424.60H1218.40M561.80 1396.45H567.80M1212.40 1396.45H1218.40M561.80 1382.16H567.80M1212.40 1382.16H1218.40M561.80 1372.02H567.80M1212.40 1372.02H1218.40M561.80 1364.15H567.80M1212.40 1364.15H1218.40M561.80 1357.72H567.80M1212.40 1357.72H1218.40M561.80 1352.29H567.80M1212.40 1352.29H1218.40M561.80 1347.58H567.80M1212.40 1347.58H1218.40M561.80 1343.43H567.80M1212.40 1343.43H1218.40M561.80 1315.27H567.80M1212.40 1315.27H1218.40M561.80 1300.98H567.80M1212.40 1300.98H1218.40M561.80 1290.84H567.80M1212.40 1290.84H1218.40M561.80 1282.97H567.80M1212.40 1282.97H1218.40M561.80 1276.54H567.80M1212.40 1276.54H1218.40M561.80 1271.11H567.80M1212.40 1271.11H1218.40" stroke="#000" stroke-width="2.0" fill="none"/>
<rect x="567.80" y="1268.60" width="650.60" height="477.00" fill="none" stroke="#000" stroke-width="2.0"/>
<path d="M189.20 1101.70V1107.70M189.20 655.00V659.00M195.77 1101.70V1107.70M195.77 655.00V659.00M201.32 1101.70V1107.70M201.32 655.00V659.00M206.12 1101.70V1107.70M206.12 655.00V659.00M210.37 1101.70V1107.70M210.37 655.00V659.00M214.16 1101.70V1112.20M214.16 655.00V661.00M239.12 1101.70V1107.70M239.12 655.00V659.00M253.72 1101.70V1107.70M253.72 655.00V659.00M264.08 1101.70V1107.70M264.08 655.00V659.00M272.12 1101.70V1107.70M272.12 655.00V659.00M278.68 1101.70V1107.70M278.68 655.00V659.00M284.23 1101.70V1107.70M284.23 655.00V659.00M289.04 1101.70V1107.70M289.04 655.00V659.00M293.28 1101.70V1107.70M293.28 655.00V659.00M297.08 1101.70V1112.20M297.08 655.00V661.00M322.04 1101.70V1107.70M322.04 655.00V659.00M336.64 1101.70V1107.70M336.64 655.00V659.00M347.00 1101.70V1107.70M347.00 655.00V659.00M355.03 1101.70V1107.70M355.03 655.00V659.00M361.60 1101.70V1107.70M361.60 655.00V659.00M367.15 1101.70V1107.70M367.15 655.00V659.00M371.96 1101.70V1107.70M371.96 655.00V659.00M376.20 1101.70V1107.70M376.20 655.00V659.00M379.99 1101.70V1112.20M379.99 655.00V661.00M404.95 1101.70V1107.70M404.95 655.00V659.00M419.55 1101.70V1107.70M419.55 655.00V659.00M429.91 1101.70V1107.70M429.91 655.00V659.00M437.95 1101.70V1107.70M437.95 655.00V659.00M444.51 1101.70V1107.70M444.51 655.00V659.00M450.06 1101.70V1107.70M450.06 655.00V659.00M454.87 1101.70V1107.70M454.87 655.00V659.00M459.11 1101.70V1107.70M459.11 655.00V659.00M462.91 1101.70V1112.20M462.91 655.00V661.00M487.87 1101.70V1107.70M487.87 655.00V659.00M502.47 1101.70V1107.70M502.47 655.00V659.00M512.83 1101.70V1107.70M512.83 655.00V659.00M520.86 1101.70V1107.70M520.86 655.00V659.00M527.43 1101.70V1107.70M527.43 655.00V659.00M532.98 1101.70V1107.70M532.98 655.00V659.00M537.79 1101.70V1107.70M537.79 655.00V659.00M542.03 1101.70V1107.70M542.03 655.00V659.00M545.82 1101.70V1112.20M545.82 655.00V661.00M570.78 1101.70V1107.70M570.78 655.00V659.00M585.38 1101.70V1107.70M585.38 655.00V659.00M595.74 1101.70V1107.70M595.74 655.00V659.00M603.78 1101.70V1107.70M603.78 655.00V659.00M610.34 1101.70V1107.70M610.34 655.00V659.00M615.89 1101.70V1107.70M615.89 655.00V659.00M620.70 1101.70V1107.70M620.70 655.00V659.00M624.94 1101.70V1107.70M624.94 655.00V659.00M628.74 1101.70V1112.20M628.74 655.00V661.00M653.70 1101.70V1107.70M653.70 655.00V659.00M668.30 1101.70V1107.70M668.30 655.00V659.00M678.66 1101.70V1107.70M678.66 655.00V659.00M686.69 1101.70V1107.70M686.69 655.00V659.00M693.26 1101.70V1107.70M693.26 655.00V659.00M698.81 1101.70V1107.70M698.81 655.00V659.00M703.62 1101.70V1107.70M703.62 655.00V659.00M707.86 1101.70V1107.70M707.86 655.00V659.00M711.65 1101.70V1112.20M711.65 655.00V661.00M736.61 1101.70V1107.70M736.61 655.00V659.00M751.21 1101.70V1107.70M751.21 655.00V659.00M761.57 1101.70V1107.70M761.57 655.00V659.00M769.61 1101.70V1107.70M769.61 655.00V659.00M776.17 1101.70V1107.70M776.17 655.00V659.00M781.72 1101.70V1107.70M781.72 655.00V659.00M786.53 1101.70V1107.70M786.53 655.00V659.00M790.77 1101.70V1107.70M790.77 655.00V659.00M794.57 1101.70V1112.20M794.57 655.00V661.00M178.70 1064.48H189.20M789.00 1064.48H798.00M178.70 990.03H189.20M789.00 990.03H798.00M178.70 915.58H189.20M789.00 915.58H798.00M178.70 841.12H189.20M789.00 841.12H798.00M178.70 766.67H189.20M789.00 766.67H798.00M178.70 692.22H189.20M789.00 692.22H798.00M183.20 1101.70H189.20M793.00 1101.70H798.00M183.20 1027.25H189.20M793.00 1027.25H798.00M183.20 952.80H189.20M793.00 952.80H798.00M183.20 878.35H189.20M793.00 878.35H798.00M183.20 803.90H189.20M793.00 803.90H798.00M183.20 729.45H189.20M793.00 729.45H798.00M183.20 655.00H189.20M793.00 655.00H798.00" stroke="#000" stroke-width="2.0" fill="none"/>
<rect x="189.20" y="655.00" width="608.80" height="446.70" fill="none" stroke="#000" stroke-width="2.0"/>
<path d="M991.10 1113.80V1119.80M991.10 655.70V659.20M997.84 1113.80V1119.80M997.84 655.70V659.20M1003.53 1113.80V1119.80M1003.53 655.70V659.20M1008.47 1113.80V1119.80M1008.47 655.70V659.20M1012.82 1113.80V1119.80M1012.82 655.70V659.20M1016.72 1113.80V1124.30M1016.72 655.70V659.70M1042.33 1113.80V1119.80M1042.33 655.70V659.20M1057.32 1113.80V1119.80M1057.32 655.70V659.20M1067.95 1113.80V1119.80M1067.95 655.70V659.20M1076.19 1113.80V1119.80M1076.19 655.70V659.20M1082.93 1113.80V1119.80M1082.93 655.70V659.20M1088.63 1113.80V1119.80M1088.63 655.70V659.20M1093.56 1113.80V1119.80M1093.56 655.70V659.20M1097.92 1113.80V1119.80M1097.92 655.70V659.20M1101.81 1113.80V1124.30M1101.81 655.70V659.70M1127.43 1113.80V1119.80M1127.43 655.70V659.20M1142.41 1113.80V1119.80M1142.41 655.70V659.20M1153.04 1113.80V1119.80M1153.04 655.70V659.20M1161.29 1113.80V1119.80M1161.29 655.70V659.20M1168.03 1113.80V1119.80M1168.03 655.70V659.20M1173.72 1113.80V1119.80M1173.72 655.70V659.20M1178.66 1113.80V1119.80M1178.66 655.70V659.20M1183.01 1113.80V1119.80M1183.01 655.70V659.20M1186.91 1113.80V1124.30M1186.91 655.70V659.70M1212.52 1113.80V1119.80M1212.52 655.70V659.20M1227.51 1113.80V1119.80M1227.51 655.70V659.20M1238.14 1113.80V1119.80M1238.14 655.70V659.20M1246.38 1113.80V1119.80M1246.38 655.70V659.20M1253.12 1113.80V1119.80M1253.12 655.70V659.20M1258.82 1113.80V1119.80M1258.82 655.70V659.20M1263.75 1113.80V1119.80M1263.75 655.70V659.20M1268.11 1113.80V1119.80M1268.11 655.70V659.20M1272.00 1113.80V1124.30M1272.00 655.70V659.70M1297.62 1113.80V1119.80M1297.62 655.70V659.20M1312.60 1113.80V1119.80M1312.60 655.70V659.20M1323.23 1113.80V1119.80M1323.23 655.70V659.20M1331.48 1113.80V1119.80M1331.48 655.70V659.20M1338.22 1113.80V1119.80M1338.22 655.70V659.20M1343.91 1113.80V1119.80M1343.91 655.70V659.20M1348.85 1113.80V1119.80M1348.85 655.70V659.20M1353.20 1113.80V1119.80M1353.20 655.70V659.20M1357.09 1113.80V1124.30M1357.09 655.70V659.70M1382.71 1113.80V1119.80M1382.71 655.70V659.20M1397.69 1113.80V1119.80M1397.69 655.70V659.20M1408.33 1113.80V1119.80M1408.33 655.70V659.20M1416.57 1113.80V1119.80M1416.57 655.70V659.20M1423.31 1113.80V1119.80M1423.31 655.70V659.20M1429.01 1113.80V1119.80M1429.01 655.70V659.20M1433.94 1113.80V1119.80M1433.94 655.70V659.20M1438.29 1113.80V1119.80M1438.29 655.70V659.20M1442.19 1113.80V1124.30M1442.19 655.70V659.70M1467.80 1113.80V1119.80M1467.80 655.70V659.20M1482.79 1113.80V1119.80M1482.79 655.70V659.20M1493.42 1113.80V1119.80M1493.42 655.70V659.20M1501.67 1113.80V1119.80M1501.67 655.70V659.20M1508.41 1113.80V1119.80M1508.41 655.70V659.20M1514.10 1113.80V1119.80M1514.10 655.70V659.20M1519.04 1113.80V1119.80M1519.04 655.70V659.20M1523.39 1113.80V1119.80M1523.39 655.70V659.20M1527.28 1113.80V1124.30M1527.28 655.70V659.70M1552.90 1113.80V1119.80M1552.90 655.70V659.20M1567.88 1113.80V1119.80M1567.88 655.70V659.20M1578.52 1113.80V1119.80M1578.52 655.70V659.20M1586.76 1113.80V1119.80M1586.76 655.70V659.20M1593.50 1113.80V1119.80M1593.50 655.70V659.20M1599.20 1113.80V1119.80M1599.20 655.70V659.20M1604.13 1113.80V1119.80M1604.13 655.70V659.20M1608.48 1113.80V1119.80M1608.48 655.70V659.20M1612.38 1113.80V1124.30M1612.38 655.70V659.70M980.60 1113.80H991.10M1606.90 1113.80H1615.90M980.60 1014.26H991.10M1606.90 1014.26H1615.90M980.60 914.71H991.10M1606.90 914.71H1615.90M980.60 815.17H991.10M1606.90 815.17H1615.90M980.60 715.63H991.10M1606.90 715.63H1615.90M985.10 1064.03H991.10M1610.90 1064.03H1615.90M985.10 964.48H991.10M1610.90 964.48H1615.90M985.10 864.94H991.10M1610.90 864.94H1615.90M985.10 765.40H991.10M1610.90 765.40H1615.90M985.10 665.85H991.10M1610.90 665.85H1615.90" stroke="#000" stroke-width="2.0" fill="none"/>
<rect x="991.10" y="655.70" width="624.80" height="458.10" fill="none" stroke="#000" stroke-width="2.0"/>
<text x="179.34" y="535.00" text-anchor="middle" font-size="28">10<tspan font-size="17" dy="-15">-1</tspan></text>
<text x="266.83" y="535.00" text-anchor="middle" font-size="28">10<tspan font-size="17" dy="-15">0</tspan></text>
<text x="354.32" y="535.00" text-anchor="middle" font-size="28">10<tspan font-size="17" dy="-15">1</tspan></text>
<text x="441.81" y="535.00" text-anchor="middle" font-size="28">10<tspan font-size="17" dy="-15">2</tspan></text>
<text x="529.30" y="535.00" text-anchor="middle" font-size="28">10<tspan font-size="17" dy="-15">3</tspan></text>
<text x="616.80" y="535.00" text-anchor="middle" font-size="28">10<tspan font-size="17" dy="-15">4</tspan></text>
<text x="704.29" y="535.00" text-anchor="middle" font-size="28">10<tspan font-size="17" dy="-15">5</tspan></text>
<text x="791.78" y="535.00" text-anchor="middle" font-size="28">10<tspan font-size="17" dy="-15">6</tspan></text>
<text x="1014.13" y="531.00" text-anchor="middle" font-size="28">10<tspan font-size="17" dy="-15">-1</tspan></text>
<text x="1101.25" y="531.00" text-anchor="middle" font-size="28">10<tspan font-size="17" dy="-15">0</tspan></text>
<text x="1188.37" y="531.00" text-anchor="middle" font-size="28">10<tspan font-size="17" dy="-15">1</tspan></text>
<text x="1275.50" y="531.00" text-anchor="middle" font-size="28">10<tspan font-size="17" dy="-15">2</tspan></text>
<text x="1362.62" y="531.00" text-anchor="middle" font-size="28">10<tspan font-size="17" dy="-15">3</tspan></text>
<text x="1449.75" y="531.00" text-anchor="middle" font-size="28">10<tspan font-size="17" dy="-15">4</tspan></text>
<text x="1536.87" y="531.00" text-anchor="middle" font-size="28">10<tspan font-size="17" dy="-15">5</tspan></text>
<text x="1623.99" y="531.00" text-anchor="middle" font-size="28">10<tspan font-size="17" dy="-15">6</tspan></text>
<text x="214.16" y="1144.20" text-anchor="middle" font-size="28">10<tspan font-size="17" dy="-15">-1</tspan></text>
<text x="297.08" y="1144.20" text-anchor="middle" font-size="28">10<tspan font-size="17" dy="-15">0</tspan></text>
<text x="379.99" y="1144.20" text-anchor="middle" font-size="28">10<tspan font-size="17" dy="-15">1</tspan></text>
<text x="462.91" y="1144.20" text-anchor="middle" font-size="28">10<tspan font-size="17" dy="-15">2</tspan></text>
<text x="545.82" y="1144.20" text-anchor="middle" font-size="28">10<tspan font-size="17" dy="-15">3</tspan></text>
<text x="628.74" y="1144.20" text-anchor="middle" font-size="28">10<tspan font-size="17" dy="-15">4</tspan></text>
<text x="711.65" y="1144.20" text-anchor="middle" font-size="28">10<tspan font-size="17" dy="-15">5</tspan></text>
<text x="794.57" y="1144.20" text-anchor="middle" font-size="28">10<tspan font-size="17" dy="-15">6</tspan></text>
<text x="1016.72" y="1157.30" text-anchor="middle" font-size="28">10<tspan font-size="17" dy="-15">-1</tspan></text>
<text x="1101.81" y="1157.30" text-anchor="middle" font-size="28">10<tspan font-size="17" dy="-15">0</tspan></text>
<text x="1186.91" y="1157.30" text-anchor="middle" font-size="28">10<tspan font-size="17" dy="-15">1</tspan></text>
<text x="1272.00" y="1157.30" text-anchor="middle" font-size="28">10<tspan font-size="17" dy="-15">2</tspan></text>
<text x="1357.09" y="1157.30" text-anchor="middle" font-size="28">10<tspan font-size="17" dy="-15">3</tspan></text>
<text x="1442.19" y="1157.30" text-anchor="middle" font-size="28">10<tspan font-size="17" dy="-15">4</tspan></text>
<text x="1527.28" y="1157.30" text-anchor="middle" font-size="28">10<tspan font-size="17" dy="-15">5</tspan></text>
<text x="1612.38" y="1157.30" text-anchor="middle" font-size="28">10<tspan font-size="17" dy="-15">6</tspan></text>
<text x="594.47" y="1789.70" text-anchor="middle" font-size="28">10<tspan font-size="17" dy="-15">-1</tspan></text>
<text x="683.08" y="1789.70" text-anchor="middle" font-size="28">10<tspan font-size="17" dy="-15">0</tspan></text>
<text x="771.69" y="1789.70" text-anchor="middle" font-size="28">10<tspan font-size="17" dy="-15">1</tspan></text>
<text x="860.30" y="1789.70" text-anchor="middle" font-size="28">10<tspan font-size="17" dy="-15">2</tspan></text>
<text x="948.91" y="1789.70" text-anchor="middle" font-size="28">10<tspan font-size="17" dy="-15">3</tspan></text>
<text x="1037.52" y="1789.70" text-anchor="middle" font-size="28">10<tspan font-size="17" dy="-15">4</tspan></text>
<text x="1126.12" y="1789.70" text-anchor="middle" font-size="28">10<tspan font-size="17" dy="-15">5</tspan></text>
<text x="1214.73" y="1789.70" text-anchor="middle" font-size="28">10<tspan font-size="17" dy="-15">6</tspan></text>
<text x="135.50" y="464.80" text-anchor="end" font-size="28">10<tspan font-size="17" dy="-15">1</tspan></text>
<text x="135.50" y="343.52" text-anchor="end" font-size="28">10<tspan font-size="17" dy="-15">2</tspan></text>
<text x="135.50" y="222.25" text-anchor="end" font-size="28">10<tspan font-size="17" dy="-15">3</tspan></text>
<text x="135.50" y="100.97" text-anchor="end" font-size="28">10<tspan font-size="17" dy="-15">4</tspan></text>
<text x="970.40" y="497.30" text-anchor="end" font-size="28">10<tspan font-size="17" dy="-15">-2</tspan></text>
<text x="970.40" y="442.90" text-anchor="end" font-size="28">10<tspan font-size="17" dy="-15">-1</tspan></text>
<text x="970.40" y="388.50" text-anchor="end" font-size="28">10<tspan font-size="17" dy="-15">0</tspan></text>
<text x="970.40" y="334.10" text-anchor="end" font-size="28">10<tspan font-size="17" dy="-15">1</tspan></text>
<text x="970.40" y="279.70" text-anchor="end" font-size="28">10<tspan font-size="17" dy="-15">2</tspan></text>
<text x="970.40" y="225.30" text-anchor="end" font-size="28">10<tspan font-size="17" dy="-15">3</tspan></text>
<text x="970.40" y="170.90" text-anchor="end" font-size="28">10<tspan font-size="17" dy="-15">4</tspan></text>
<text x="970.40" y="116.50" text-anchor="end" font-size="28">10<tspan font-size="17" dy="-15">5</tspan></text>
<text x="970.40" y="62.10" text-anchor="end" font-size="28">10<tspan font-size="17" dy="-15">6</tspan></text>
<text x="550.30" y="1755.90" text-anchor="end" font-size="28">10<tspan font-size="17" dy="-15">-3</tspan></text>
<text x="550.30" y="1674.72" text-anchor="end" font-size="28">10<tspan font-size="17" dy="-15">-2</tspan></text>
<text x="550.30" y="1593.54" text-anchor="end" font-size="28">10<tspan font-size="17" dy="-15">-1</tspan></text>
<text x="550.30" y="1512.37" text-anchor="end" font-size="28">10<tspan font-size="17" dy="-15">0</tspan></text>
<text x="550.30" y="1431.19" text-anchor="end" font-size="28">10<tspan font-size="17" dy="-15">1</tspan></text>
<text x="550.30" y="1350.01" text-anchor="end" font-size="28">10<tspan font-size="17" dy="-15">2</tspan></text>
<text x="171.70" y="1074.78" text-anchor="end" font-size="28">0.00</text>
<text x="171.70" y="1000.33" text-anchor="end" font-size="28">0.02</text>
<text x="171.70" y="925.88" text-anchor="end" font-size="28">0.04</text>
<text x="171.70" y="851.42" text-anchor="end" font-size="28">0.06</text>
<text x="171.70" y="776.97" text-anchor="end" font-size="28">0.08</text>
<text x="171.70" y="702.52" text-anchor="end" font-size="28">0.10</text>
<text x="973.60" y="1024.56" text-anchor="end" font-size="28">0.005</text>
<text x="973.60" y="925.01" text-anchor="end" font-size="28">0.010</text>
<text x="973.60" y="825.47" text-anchor="end" font-size="28">0.015</text>
<text x="973.60" y="725.93" text-anchor="end" font-size="28">0.020</text>
<text x="9.2" y="24.1" font-size="41">a</text>
<text x="849.4" y="32.7" font-size="42">b</text>
<text x="0.1" y="661" font-size="42">c</text>
<text x="841.6" y="666.9" font-size="42">d</text>
<text x="427.4" y="1283.8" font-size="42">e</text>
<text x="335.92" y="575.80" font-size="37" font-family='"Liberation Sans", Arial, sans-serif' font-weight="bold" textLength="275.63" lengthAdjust="spacingAndGlyphs">Frequency (Hz)</text>
<text x="1169.73" y="576.30" font-size="37" font-family='"Liberation Sans", Arial, sans-serif' font-weight="bold" textLength="274.71" lengthAdjust="spacingAndGlyphs">Frequency (Hz)</text>
<text x="360.75" y="1187.60" font-size="35" font-family='"Liberation Sans", Arial, sans-serif' font-weight="bold" textLength="261.30" lengthAdjust="spacingAndGlyphs">Frequency (Hz)</text>
<text x="1166.89" y="1203.20" font-size="37" font-family='"Liberation Sans", Arial, sans-serif' font-weight="bold" textLength="268.01" lengthAdjust="spacingAndGlyphs">Frequency (Hz)</text>
<text x="752.68" y="1848.30" font-size="37" font-family='"Liberation Sans", Arial, sans-serif' font-weight="bold" textLength="279.89" lengthAdjust="spacingAndGlyphs">Frequency (Hz)</text>
<text transform="translate(68.3,303.6) rotate(-90)" font-size="45"><tspan font-family='"Liberation Serif", "Times New Roman", serif' font-weight="normal">ε</tspan><tspan font-size="46" dx="1.5" dy="-4.5">'</tspan></text>
<text transform="translate(899.8,282.6) rotate(-90)" font-size="45"><tspan font-family='"Liberation Serif", "Times New Roman", serif' font-weight="normal">ε</tspan><tspan font-size="46" dy="-4.5">''</tspan></text>
<text transform="translate(55.3,909) rotate(-90)" font-size="37.5">M'</text>
<text transform="translate(874.7,899.8) rotate(-90)" font-size="37.5">M''</text>
<text transform="translate(491.2,1569.7) rotate(-90)" font-size="38">tan<tspan font-family='"Liberation Serif", "Times New Roman", serif' font-weight="normal" font-size="36.5">δ</tspan></text>
<text x="458.70" y="188.00" font-size="36" font-family='"Liberation Sans", Arial, sans-serif' font-weight="bold" textLength="93.40" lengthAdjust="spacingAndGlyphs">363 K</text>
<text x="437.50" y="279.80" font-size="34" font-family='"Liberation Serif", "Times New Roman", serif' font-weight="normal" textLength="22.03" lengthAdjust="spacingAndGlyphs">Δ</text>
<text x="460.84" y="279.80" font-size="36" font-family='"Liberation Sans", Arial, sans-serif' font-weight="bold" textLength="138.24" lengthAdjust="spacingAndGlyphs">T = 10 K</text>
<text x="158.70" y="478.20" font-size="36" font-family='"Liberation Sans", Arial, sans-serif' font-weight="bold" textLength="93.30" lengthAdjust="spacingAndGlyphs">173 K</text>
<path d="M220.90 443.40L490.62 199.33" stroke="#000" stroke-width="2.6" fill="none"/><path d="M496.40 194.10L490.45 206.90L488.61 201.15L483.07 198.74Z" fill="#000"/>
<text x="1336.80" y="136.00" font-size="36" font-family='"Liberation Sans", Arial, sans-serif' font-weight="bold" textLength="93.60" lengthAdjust="spacingAndGlyphs">363 K</text>
<text x="1336.26" y="224.70" font-size="34" font-family='"Liberation Serif", "Times New Roman", serif' font-weight="normal" textLength="22.70" lengthAdjust="spacingAndGlyphs">Δ</text>
<text x="1359.65" y="224.70" font-size="36" font-family='"Liberation Sans", Arial, sans-serif' font-weight="bold" textLength="135.22" lengthAdjust="spacingAndGlyphs">T = 10 K</text>
<text x="1021.30" y="439.30" font-size="36" font-family='"Liberation Sans", Arial, sans-serif' font-weight="bold" textLength="93.30" lengthAdjust="spacingAndGlyphs">173 K</text>
<path d="M1102.10 394.30L1375.62 146.34" stroke="#000" stroke-width="2.6" fill="none"/><path d="M1381.40 141.10L1375.46 153.91L1373.62 148.15L1368.07 145.76Z" fill="#000"/>
<text x="946.60" y="1387.40" font-size="36" font-family='"Liberation Sans", Arial, sans-serif' font-weight="bold" textLength="92.99" lengthAdjust="spacingAndGlyphs">363 K</text>
<text x="922.36" y="1479.20" font-size="34" font-family='"Liberation Serif", "Times New Roman", serif' font-weight="normal" textLength="22.70" lengthAdjust="spacingAndGlyphs">Δ</text>
<text x="945.74" y="1479.20" font-size="36" font-family='"Liberation Sans", Arial, sans-serif' font-weight="bold" textLength="138.24" lengthAdjust="spacingAndGlyphs">T = 10 K</text>
<text x="614.90" y="1687.10" font-size="36" font-family='"Liberation Sans", Arial, sans-serif' font-weight="bold" textLength="93.40" lengthAdjust="spacingAndGlyphs">173 K</text>
<path d="M684.60 1652.10L961.73 1399.95" stroke="#000" stroke-width="2.6" fill="none"/><path d="M967.50 1394.70L961.59 1407.52L959.73 1401.77L954.18 1399.38Z" fill="#000"/>
<text x="195.70" y="688.30" font-size="36" font-family='"Liberation Sans", Arial, sans-serif' font-weight="bold" textLength="93.19" lengthAdjust="spacingAndGlyphs">173 K</text>
<text x="427.38" y="688.90" font-size="34" font-family='"Liberation Serif", "Times New Roman", serif' font-weight="normal" textLength="20.58" lengthAdjust="spacingAndGlyphs">Δ</text>
<text x="448.74" y="688.90" font-size="36" font-family='"Liberation Sans", Arial, sans-serif' font-weight="bold" textLength="128.44" lengthAdjust="spacingAndGlyphs">T = 10K</text>
<text x="673.41" y="688.90" font-size="36" font-family='"Liberation Sans", Arial, sans-serif' font-weight="bold" textLength="92.39" lengthAdjust="spacingAndGlyphs">363 K</text>
<path d="M205.80 695.90L735.70 695.90" stroke="#000" stroke-width="2.4" fill="none"/><path d="M742.90 695.90L730.90 700.10L733.40 695.90L730.90 691.70Z" fill="#000"/>
<text x="998.82" y="690.80" font-size="36" font-family='"Liberation Sans", Arial, sans-serif' font-weight="bold" textLength="92.68" lengthAdjust="spacingAndGlyphs">173 K</text>
<text x="1235.01" y="691.40" font-size="34" font-family='"Liberation Serif", "Times New Roman", serif' font-weight="normal" textLength="21.81" lengthAdjust="spacingAndGlyphs">Δ</text>
<text x="1257.14" y="691.40" font-size="36" font-family='"Liberation Sans", Arial, sans-serif' font-weight="bold" textLength="130.14" lengthAdjust="spacingAndGlyphs">T = 10K</text>
<text x="1477.61" y="691.40" font-size="36" font-family='"Liberation Sans", Arial, sans-serif' font-weight="bold" textLength="92.39" lengthAdjust="spacingAndGlyphs">363 K</text>
<path d="M1007.70 697.70L1552.80 697.70" stroke="#000" stroke-width="2.4" fill="none"/><path d="M1560.00 697.70L1548.00 701.90L1550.50 697.70L1548.00 693.50Z" fill="#000"/>
</svg>
</body></html>
